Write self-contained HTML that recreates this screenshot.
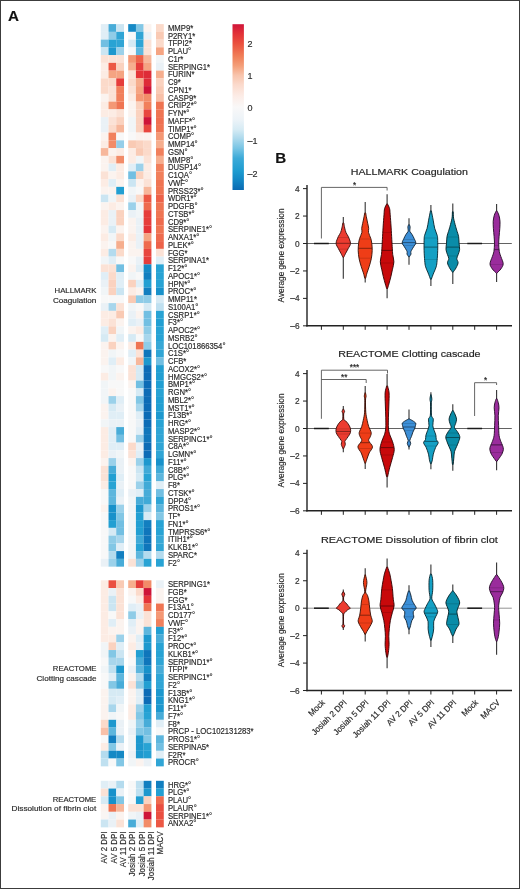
<!DOCTYPE html>
<html><head><meta charset="utf-8"><title>Figure</title>
<style>
html,body{margin:0;padding:0;background:#fff;}
body{width:520px;height:889px;overflow:hidden;}
#fig{position:relative;width:520px;height:889px;box-sizing:border-box;border:1px solid #3c3c3c;background:#fff;}
svg{position:absolute;left:0;top:0;will-change:transform;}
text{font-family:"Liberation Sans", sans-serif;stroke:#2b2b2b;stroke-width:0.18px;}
</style></head>
<body><div id="fig">
<svg width="520" height="889" viewBox="0 0 520 889" style="left:-1px;top:-1px">
<rect x="100.80" y="24.10" width="7.78" height="7.81" fill="#e0eef6"/>
<rect x="108.52" y="24.10" width="7.78" height="7.81" fill="#48acd8"/>
<rect x="116.24" y="24.10" width="7.78" height="7.81" fill="#cbe5f2"/>
<rect x="128.20" y="24.10" width="7.78" height="7.81" fill="#1589c5"/>
<rect x="135.92" y="24.10" width="7.78" height="7.81" fill="#82c7e5"/>
<rect x="143.64" y="24.10" width="7.78" height="7.81" fill="#fbf3ef"/>
<rect x="156.00" y="24.10" width="7.78" height="7.81" fill="#fbdaca"/>
<text x="167.90" y="30.95" font-size="8.3" text-anchor="start" fill="#2b2b2b" font-weight="normal" textLength="25.31" lengthAdjust="spacingAndGlyphs">MMP9*</text>
<rect x="100.80" y="31.85" width="7.78" height="7.81" fill="#e0eef6"/>
<rect x="108.52" y="31.85" width="7.78" height="7.81" fill="#8fcce7"/>
<rect x="116.24" y="31.85" width="7.78" height="7.81" fill="#30a5d5"/>
<rect x="128.20" y="31.85" width="7.78" height="7.81" fill="#f8f8f8"/>
<rect x="135.92" y="31.85" width="7.78" height="7.81" fill="#30a5d5"/>
<rect x="143.64" y="31.85" width="7.78" height="7.81" fill="#eaf1f6"/>
<rect x="156.00" y="31.85" width="7.78" height="7.81" fill="#f9cab4"/>
<text x="167.90" y="38.70" font-size="8.3" text-anchor="start" fill="#2b2b2b" font-weight="normal" textLength="27.32" lengthAdjust="spacingAndGlyphs">P2RY1*</text>
<rect x="100.80" y="39.60" width="7.78" height="7.81" fill="#72bfe2"/>
<rect x="108.52" y="39.60" width="7.78" height="7.81" fill="#28a3d4"/>
<rect x="116.24" y="39.60" width="7.78" height="7.81" fill="#30a5d5"/>
<rect x="128.20" y="39.60" width="7.78" height="7.81" fill="#d6eaf4"/>
<rect x="135.92" y="39.60" width="7.78" height="7.81" fill="#30a5d5"/>
<rect x="143.64" y="39.60" width="7.78" height="7.81" fill="#fbe2d6"/>
<rect x="156.00" y="39.60" width="7.78" height="7.81" fill="#fbdaca"/>
<text x="167.90" y="46.45" font-size="8.3" text-anchor="start" fill="#2b2b2b" font-weight="normal" textLength="24.02" lengthAdjust="spacingAndGlyphs">TFPI2*</text>
<rect x="100.80" y="47.35" width="7.78" height="7.81" fill="#cbe5f2"/>
<rect x="108.52" y="47.35" width="7.78" height="7.81" fill="#1d98ce"/>
<rect x="116.24" y="47.35" width="7.78" height="7.81" fill="#9bd1ea"/>
<rect x="128.20" y="47.35" width="7.78" height="7.81" fill="#f8f8f8"/>
<rect x="135.92" y="47.35" width="7.78" height="7.81" fill="#5db6dd"/>
<rect x="143.64" y="47.35" width="7.78" height="7.81" fill="#fbe2d6"/>
<rect x="156.00" y="47.35" width="7.78" height="7.81" fill="#f5a482"/>
<text x="167.90" y="54.20" font-size="8.3" text-anchor="start" fill="#2b2b2b" font-weight="normal" textLength="23.25" lengthAdjust="spacingAndGlyphs">PLAU°</text>
<rect x="100.80" y="55.10" width="7.78" height="7.81" fill="#fbe2d6"/>
<rect x="108.52" y="55.10" width="7.78" height="7.81" fill="#fbe2d6"/>
<rect x="116.24" y="55.10" width="7.78" height="7.81" fill="#fbe2d6"/>
<rect x="128.20" y="55.10" width="7.78" height="7.81" fill="#f49875"/>
<rect x="135.92" y="55.10" width="7.78" height="7.81" fill="#ed6249"/>
<rect x="143.64" y="55.10" width="7.78" height="7.81" fill="#f7b79b"/>
<rect x="156.00" y="55.10" width="7.78" height="7.81" fill="#f1f5f7"/>
<text x="167.90" y="61.95" font-size="8.3" text-anchor="start" fill="#2b2b2b" font-weight="normal" textLength="15.44" lengthAdjust="spacingAndGlyphs">C1r*</text>
<rect x="100.80" y="62.85" width="7.78" height="7.81" fill="#fcece4"/>
<rect x="108.52" y="62.85" width="7.78" height="7.81" fill="#ec5844"/>
<rect x="116.24" y="62.85" width="7.78" height="7.81" fill="#fad2bf"/>
<rect x="128.20" y="62.85" width="7.78" height="7.81" fill="#f6ae8e"/>
<rect x="135.92" y="62.85" width="7.78" height="7.81" fill="#e63d3b"/>
<rect x="143.64" y="62.85" width="7.78" height="7.81" fill="#f5a482"/>
<rect x="156.00" y="62.85" width="7.78" height="7.81" fill="#eaf1f6"/>
<text x="167.90" y="69.70" font-size="8.3" text-anchor="start" fill="#2b2b2b" font-weight="normal" textLength="42.04" lengthAdjust="spacingAndGlyphs">SERPING1*</text>
<rect x="100.80" y="70.60" width="7.78" height="7.81" fill="#fcece4"/>
<rect x="108.52" y="70.60" width="7.78" height="7.81" fill="#f5a482"/>
<rect x="116.24" y="70.60" width="7.78" height="7.81" fill="#f5a482"/>
<rect x="128.20" y="70.60" width="7.78" height="7.81" fill="#fbe2d6"/>
<rect x="135.92" y="70.60" width="7.78" height="7.81" fill="#e43438"/>
<rect x="143.64" y="70.60" width="7.78" height="7.81" fill="#de2c38"/>
<rect x="156.00" y="70.60" width="7.78" height="7.81" fill="#f6ae8e"/>
<text x="167.90" y="77.45" font-size="8.3" text-anchor="start" fill="#2b2b2b" font-weight="normal" textLength="26.59" lengthAdjust="spacingAndGlyphs">FURIN*</text>
<rect x="100.80" y="78.35" width="7.78" height="7.81" fill="#fbdaca"/>
<rect x="108.52" y="78.35" width="7.78" height="7.81" fill="#fbdaca"/>
<rect x="116.24" y="78.35" width="7.78" height="7.81" fill="#e63d3b"/>
<rect x="128.20" y="78.35" width="7.78" height="7.81" fill="#fbdaca"/>
<rect x="135.92" y="78.35" width="7.78" height="7.81" fill="#f6ae8e"/>
<rect x="143.64" y="78.35" width="7.78" height="7.81" fill="#de2c38"/>
<rect x="156.00" y="78.35" width="7.78" height="7.81" fill="#fad2bf"/>
<text x="167.90" y="85.20" font-size="8.3" text-anchor="start" fill="#2b2b2b" font-weight="normal" textLength="12.87" lengthAdjust="spacingAndGlyphs">C9*</text>
<rect x="100.80" y="86.10" width="7.78" height="7.81" fill="#fbdaca"/>
<rect x="108.52" y="86.10" width="7.78" height="7.81" fill="#fbe2d6"/>
<rect x="116.24" y="86.10" width="7.78" height="7.81" fill="#f1805c"/>
<rect x="128.20" y="86.10" width="7.78" height="7.81" fill="#fbe2d6"/>
<rect x="135.92" y="86.10" width="7.78" height="7.81" fill="#f5a482"/>
<rect x="143.64" y="86.10" width="7.78" height="7.81" fill="#ce1438"/>
<rect x="156.00" y="86.10" width="7.78" height="7.81" fill="#f9cab4"/>
<text x="167.90" y="92.95" font-size="8.3" text-anchor="start" fill="#2b2b2b" font-weight="normal" textLength="23.59" lengthAdjust="spacingAndGlyphs">CPN1*</text>
<rect x="100.80" y="93.85" width="7.78" height="7.81" fill="#fbf3ef"/>
<rect x="108.52" y="93.85" width="7.78" height="7.81" fill="#fbe2d6"/>
<rect x="116.24" y="93.85" width="7.78" height="7.81" fill="#f1805c"/>
<rect x="128.20" y="93.85" width="7.78" height="7.81" fill="#fcece4"/>
<rect x="135.92" y="93.85" width="7.78" height="7.81" fill="#f49875"/>
<rect x="143.64" y="93.85" width="7.78" height="7.81" fill="#f28c69"/>
<rect x="156.00" y="93.85" width="7.78" height="7.81" fill="#f8c0a8"/>
<text x="167.90" y="100.70" font-size="8.3" text-anchor="start" fill="#2b2b2b" font-weight="normal" textLength="28.32" lengthAdjust="spacingAndGlyphs">CASP9*</text>
<rect x="100.80" y="101.60" width="7.78" height="7.81" fill="#fcece4"/>
<rect x="108.52" y="101.60" width="7.78" height="7.81" fill="#f49875"/>
<rect x="116.24" y="101.60" width="7.78" height="7.81" fill="#ef7553"/>
<rect x="128.20" y="101.60" width="7.78" height="7.81" fill="#fbf3ef"/>
<rect x="135.92" y="101.60" width="7.78" height="7.81" fill="#fad2bf"/>
<rect x="143.64" y="101.60" width="7.78" height="7.81" fill="#f1805c"/>
<rect x="156.00" y="101.60" width="7.78" height="7.81" fill="#ef7553"/>
<text x="167.90" y="108.45" font-size="8.3" text-anchor="start" fill="#2b2b2b" font-weight="normal" textLength="28.83" lengthAdjust="spacingAndGlyphs">CRIP2*°</text>
<rect x="100.80" y="109.35" width="7.78" height="7.81" fill="#fcece4"/>
<rect x="108.52" y="109.35" width="7.78" height="7.81" fill="#fcece4"/>
<rect x="116.24" y="109.35" width="7.78" height="7.81" fill="#fbe2d6"/>
<rect x="128.20" y="109.35" width="7.78" height="7.81" fill="#fbf3ef"/>
<rect x="135.92" y="109.35" width="7.78" height="7.81" fill="#fad2bf"/>
<rect x="143.64" y="109.35" width="7.78" height="7.81" fill="#e8463e"/>
<rect x="156.00" y="109.35" width="7.78" height="7.81" fill="#ef7553"/>
<text x="167.90" y="116.20" font-size="8.3" text-anchor="start" fill="#2b2b2b" font-weight="normal" textLength="21.53" lengthAdjust="spacingAndGlyphs">FYN*°</text>
<rect x="100.80" y="117.10" width="7.78" height="7.81" fill="#eaf1f6"/>
<rect x="108.52" y="117.10" width="7.78" height="7.81" fill="#fbe2d6"/>
<rect x="116.24" y="117.10" width="7.78" height="7.81" fill="#fad2bf"/>
<rect x="128.20" y="117.10" width="7.78" height="7.81" fill="#f1f5f7"/>
<rect x="135.92" y="117.10" width="7.78" height="7.81" fill="#fad2bf"/>
<rect x="143.64" y="117.10" width="7.78" height="7.81" fill="#ce1438"/>
<rect x="156.00" y="117.10" width="7.78" height="7.81" fill="#ef7051"/>
<text x="167.90" y="123.95" font-size="8.3" text-anchor="start" fill="#2b2b2b" font-weight="normal" textLength="27.10" lengthAdjust="spacingAndGlyphs">MAFF*°</text>
<rect x="100.80" y="124.85" width="7.78" height="7.81" fill="#eaf1f6"/>
<rect x="108.52" y="124.85" width="7.78" height="7.81" fill="#fbdaca"/>
<rect x="116.24" y="124.85" width="7.78" height="7.81" fill="#f7b79b"/>
<rect x="128.20" y="124.85" width="7.78" height="7.81" fill="#f1f5f7"/>
<rect x="135.92" y="124.85" width="7.78" height="7.81" fill="#fad2bf"/>
<rect x="143.64" y="124.85" width="7.78" height="7.81" fill="#e8463e"/>
<rect x="156.00" y="124.85" width="7.78" height="7.81" fill="#ef7553"/>
<text x="167.90" y="131.70" font-size="8.3" text-anchor="start" fill="#2b2b2b" font-weight="normal" textLength="28.82" lengthAdjust="spacingAndGlyphs">TIMP1*°</text>
<rect x="100.80" y="132.60" width="7.78" height="7.81" fill="#fbf3ef"/>
<rect x="108.52" y="132.60" width="7.78" height="7.81" fill="#f1805c"/>
<rect x="116.24" y="132.60" width="7.78" height="7.81" fill="#f8f8f8"/>
<rect x="128.20" y="132.60" width="7.78" height="7.81" fill="#f8f8f8"/>
<rect x="135.92" y="132.60" width="7.78" height="7.81" fill="#fbf3ef"/>
<rect x="143.64" y="132.60" width="7.78" height="7.81" fill="#fbf3ef"/>
<rect x="156.00" y="132.60" width="7.78" height="7.81" fill="#f49875"/>
<text x="167.90" y="139.45" font-size="8.3" text-anchor="start" fill="#2b2b2b" font-weight="normal" textLength="26.24" lengthAdjust="spacingAndGlyphs">COMP°</text>
<rect x="100.80" y="140.35" width="7.78" height="7.81" fill="#fcece4"/>
<rect x="108.52" y="140.35" width="7.78" height="7.81" fill="#f28c69"/>
<rect x="116.24" y="140.35" width="7.78" height="7.81" fill="#95cee9"/>
<rect x="128.20" y="140.35" width="7.78" height="7.81" fill="#f9cab4"/>
<rect x="135.92" y="140.35" width="7.78" height="7.81" fill="#fad2bf"/>
<rect x="143.64" y="140.35" width="7.78" height="7.81" fill="#fbdaca"/>
<rect x="156.00" y="140.35" width="7.78" height="7.81" fill="#f6ae8e"/>
<text x="167.90" y="147.20" font-size="8.3" text-anchor="start" fill="#2b2b2b" font-weight="normal" textLength="29.68" lengthAdjust="spacingAndGlyphs">MMP14°</text>
<rect x="100.80" y="148.10" width="7.78" height="7.81" fill="#f7b79b"/>
<rect x="108.52" y="148.10" width="7.78" height="7.81" fill="#fbf3ef"/>
<rect x="116.24" y="148.10" width="7.78" height="7.81" fill="#fcece4"/>
<rect x="128.20" y="148.10" width="7.78" height="7.81" fill="#fcece4"/>
<rect x="135.92" y="148.10" width="7.78" height="7.81" fill="#f9cab4"/>
<rect x="143.64" y="148.10" width="7.78" height="7.81" fill="#fbdaca"/>
<rect x="156.00" y="148.10" width="7.78" height="7.81" fill="#f1805c"/>
<text x="167.90" y="154.95" font-size="8.3" text-anchor="start" fill="#2b2b2b" font-weight="normal" textLength="19.81" lengthAdjust="spacingAndGlyphs">GSN°</text>
<rect x="100.80" y="155.85" width="7.78" height="7.81" fill="#fbf3ef"/>
<rect x="108.52" y="155.85" width="7.78" height="7.81" fill="#fbe2d6"/>
<rect x="116.24" y="155.85" width="7.78" height="7.81" fill="#f28c69"/>
<rect x="128.20" y="155.85" width="7.78" height="7.81" fill="#fcece4"/>
<rect x="135.92" y="155.85" width="7.78" height="7.81" fill="#f1f5f7"/>
<rect x="143.64" y="155.85" width="7.78" height="7.81" fill="#fbe2d6"/>
<rect x="156.00" y="155.85" width="7.78" height="7.81" fill="#f6ae8e"/>
<text x="167.90" y="162.70" font-size="8.3" text-anchor="start" fill="#2b2b2b" font-weight="normal" textLength="25.39" lengthAdjust="spacingAndGlyphs">MMP8°</text>
<rect x="100.80" y="163.60" width="7.78" height="7.81" fill="#fbf3ef"/>
<rect x="108.52" y="163.60" width="7.78" height="7.81" fill="#e0eef6"/>
<rect x="116.24" y="163.60" width="7.78" height="7.81" fill="#fcece4"/>
<rect x="128.20" y="163.60" width="7.78" height="7.81" fill="#e0eef6"/>
<rect x="135.92" y="163.60" width="7.78" height="7.81" fill="#9bd1ea"/>
<rect x="143.64" y="163.60" width="7.78" height="7.81" fill="#fcece4"/>
<rect x="156.00" y="163.60" width="7.78" height="7.81" fill="#f1805c"/>
<text x="167.90" y="170.45" font-size="8.3" text-anchor="start" fill="#2b2b2b" font-weight="normal" textLength="33.12" lengthAdjust="spacingAndGlyphs">DUSP14°</text>
<rect x="100.80" y="171.35" width="7.78" height="7.81" fill="#fbe2d6"/>
<rect x="108.52" y="171.35" width="7.78" height="7.81" fill="#fbf3ef"/>
<rect x="116.24" y="171.35" width="7.78" height="7.81" fill="#fcece4"/>
<rect x="128.20" y="171.35" width="7.78" height="7.81" fill="#72bfe2"/>
<rect x="135.92" y="171.35" width="7.78" height="7.81" fill="#fad2bf"/>
<rect x="143.64" y="171.35" width="7.78" height="7.81" fill="#fcece4"/>
<rect x="156.00" y="171.35" width="7.78" height="7.81" fill="#f1805c"/>
<text x="167.90" y="178.20" font-size="8.3" text-anchor="start" fill="#2b2b2b" font-weight="normal" textLength="24.11" lengthAdjust="spacingAndGlyphs">C1QA°</text>
<rect x="100.80" y="179.10" width="7.78" height="7.81" fill="#fcece4"/>
<rect x="108.52" y="179.10" width="7.78" height="7.81" fill="#e0eef6"/>
<rect x="116.24" y="179.10" width="7.78" height="7.81" fill="#fbf3ef"/>
<rect x="128.20" y="179.10" width="7.78" height="7.81" fill="#cbe5f2"/>
<rect x="135.92" y="179.10" width="7.78" height="7.81" fill="#fbf3ef"/>
<rect x="143.64" y="179.10" width="7.78" height="7.81" fill="#fbe2d6"/>
<rect x="156.00" y="179.10" width="7.78" height="7.81" fill="#ef7553"/>
<text x="167.90" y="185.95" font-size="8.3" text-anchor="start" fill="#2b2b2b" font-weight="normal" textLength="20.24" lengthAdjust="spacingAndGlyphs">VWF°</text>
<rect x="100.80" y="186.85" width="7.78" height="7.81" fill="#fbf3ef"/>
<rect x="108.52" y="186.85" width="7.78" height="7.81" fill="#fbf3ef"/>
<rect x="116.24" y="186.85" width="7.78" height="7.81" fill="#229fd2"/>
<rect x="128.20" y="186.85" width="7.78" height="7.81" fill="#f1f5f7"/>
<rect x="135.92" y="186.85" width="7.78" height="7.81" fill="#f8f8f8"/>
<rect x="143.64" y="186.85" width="7.78" height="7.81" fill="#f7b79b"/>
<rect x="156.00" y="186.85" width="7.78" height="7.81" fill="#ef7553"/>
<text x="167.90" y="193.70" font-size="8.3" text-anchor="start" fill="#2b2b2b" font-weight="normal" textLength="35.70" lengthAdjust="spacingAndGlyphs">PRSS23*°</text>
<rect x="100.80" y="194.60" width="7.78" height="7.81" fill="#cbe5f2"/>
<rect x="108.52" y="194.60" width="7.78" height="7.81" fill="#f1f5f7"/>
<rect x="116.24" y="194.60" width="7.78" height="7.81" fill="#fbe2d6"/>
<rect x="128.20" y="194.60" width="7.78" height="7.81" fill="#eaf1f6"/>
<rect x="135.92" y="194.60" width="7.78" height="7.81" fill="#fbdaca"/>
<rect x="143.64" y="194.60" width="7.78" height="7.81" fill="#ec5844"/>
<rect x="156.00" y="194.60" width="7.78" height="7.81" fill="#ed6249"/>
<text x="167.90" y="201.45" font-size="8.3" text-anchor="start" fill="#2b2b2b" font-weight="normal" textLength="28.82" lengthAdjust="spacingAndGlyphs">WDR1*°</text>
<rect x="100.80" y="202.35" width="7.78" height="7.81" fill="#fbf3ef"/>
<rect x="108.52" y="202.35" width="7.78" height="7.81" fill="#fcece4"/>
<rect x="116.24" y="202.35" width="7.78" height="7.81" fill="#fbf3ef"/>
<rect x="128.20" y="202.35" width="7.78" height="7.81" fill="#9bd1ea"/>
<rect x="135.92" y="202.35" width="7.78" height="7.81" fill="#f1f5f7"/>
<rect x="143.64" y="202.35" width="7.78" height="7.81" fill="#ee6b4e"/>
<rect x="156.00" y="202.35" width="7.78" height="7.81" fill="#ef7553"/>
<text x="167.90" y="209.20" font-size="8.3" text-anchor="start" fill="#2b2b2b" font-weight="normal" textLength="29.68" lengthAdjust="spacingAndGlyphs">PDGFB°</text>
<rect x="100.80" y="210.10" width="7.78" height="7.81" fill="#fcece4"/>
<rect x="108.52" y="210.10" width="7.78" height="7.81" fill="#eaf1f6"/>
<rect x="116.24" y="210.10" width="7.78" height="7.81" fill="#fad2bf"/>
<rect x="128.20" y="210.10" width="7.78" height="7.81" fill="#eaf1f6"/>
<rect x="135.92" y="210.10" width="7.78" height="7.81" fill="#f1f5f7"/>
<rect x="143.64" y="210.10" width="7.78" height="7.81" fill="#e63d3b"/>
<rect x="156.00" y="210.10" width="7.78" height="7.81" fill="#ef7553"/>
<text x="167.90" y="216.95" font-size="8.3" text-anchor="start" fill="#2b2b2b" font-weight="normal" textLength="26.68" lengthAdjust="spacingAndGlyphs">CTSB*°</text>
<rect x="100.80" y="217.85" width="7.78" height="7.81" fill="#fcece4"/>
<rect x="108.52" y="217.85" width="7.78" height="7.81" fill="#eaf1f6"/>
<rect x="116.24" y="217.85" width="7.78" height="7.81" fill="#fad2bf"/>
<rect x="128.20" y="217.85" width="7.78" height="7.81" fill="#fbf3ef"/>
<rect x="135.92" y="217.85" width="7.78" height="7.81" fill="#eaf1f6"/>
<rect x="143.64" y="217.85" width="7.78" height="7.81" fill="#e63d3b"/>
<rect x="156.00" y="217.85" width="7.78" height="7.81" fill="#ee6b4e"/>
<text x="167.90" y="224.70" font-size="8.3" text-anchor="start" fill="#2b2b2b" font-weight="normal" textLength="21.53" lengthAdjust="spacingAndGlyphs">CD9*°</text>
<rect x="100.80" y="225.60" width="7.78" height="7.81" fill="#fbf3ef"/>
<rect x="108.52" y="225.60" width="7.78" height="7.81" fill="#d6eaf4"/>
<rect x="116.24" y="225.60" width="7.78" height="7.81" fill="#fbf3ef"/>
<rect x="128.20" y="225.60" width="7.78" height="7.81" fill="#fbf3ef"/>
<rect x="135.92" y="225.60" width="7.78" height="7.81" fill="#eaf1f6"/>
<rect x="143.64" y="225.60" width="7.78" height="7.81" fill="#e43438"/>
<rect x="156.00" y="225.60" width="7.78" height="7.81" fill="#ef7553"/>
<text x="167.90" y="232.45" font-size="8.3" text-anchor="start" fill="#2b2b2b" font-weight="normal" textLength="44.27" lengthAdjust="spacingAndGlyphs">SERPINE1*°</text>
<rect x="100.80" y="233.35" width="7.78" height="7.81" fill="#fcece4"/>
<rect x="108.52" y="233.35" width="7.78" height="7.81" fill="#f1f5f7"/>
<rect x="116.24" y="233.35" width="7.78" height="7.81" fill="#fbdaca"/>
<rect x="128.20" y="233.35" width="7.78" height="7.81" fill="#fcece4"/>
<rect x="135.92" y="233.35" width="7.78" height="7.81" fill="#eaf1f6"/>
<rect x="143.64" y="233.35" width="7.78" height="7.81" fill="#f5a482"/>
<rect x="156.00" y="233.35" width="7.78" height="7.81" fill="#ee6b4e"/>
<text x="167.90" y="240.20" font-size="8.3" text-anchor="start" fill="#2b2b2b" font-weight="normal" textLength="31.40" lengthAdjust="spacingAndGlyphs">ANXA1*°</text>
<rect x="100.80" y="241.10" width="7.78" height="7.81" fill="#fbf3ef"/>
<rect x="108.52" y="241.10" width="7.78" height="7.81" fill="#f8f8f8"/>
<rect x="116.24" y="241.10" width="7.78" height="7.81" fill="#f6ae8e"/>
<rect x="128.20" y="241.10" width="7.78" height="7.81" fill="#fbf3ef"/>
<rect x="135.92" y="241.10" width="7.78" height="7.81" fill="#eaf1f6"/>
<rect x="143.64" y="241.10" width="7.78" height="7.81" fill="#ee6b4e"/>
<rect x="156.00" y="241.10" width="7.78" height="7.81" fill="#ed6249"/>
<text x="167.90" y="247.95" font-size="8.3" text-anchor="start" fill="#2b2b2b" font-weight="normal" textLength="25.83" lengthAdjust="spacingAndGlyphs">PLEK*°</text>
<rect x="100.80" y="248.85" width="7.78" height="7.81" fill="#fcece4"/>
<rect x="108.52" y="248.85" width="7.78" height="7.81" fill="#b4dbee"/>
<rect x="116.24" y="248.85" width="7.78" height="7.81" fill="#fbdaca"/>
<rect x="128.20" y="248.85" width="7.78" height="7.81" fill="#fbf3ef"/>
<rect x="135.92" y="248.85" width="7.78" height="7.81" fill="#fbf3ef"/>
<rect x="143.64" y="248.85" width="7.78" height="7.81" fill="#e8463e"/>
<rect x="156.00" y="248.85" width="7.78" height="7.81" fill="#fbe2d6"/>
<text x="167.90" y="255.70" font-size="8.3" text-anchor="start" fill="#2b2b2b" font-weight="normal" textLength="19.73" lengthAdjust="spacingAndGlyphs">FGG*</text>
<rect x="100.80" y="256.60" width="7.78" height="7.81" fill="#f1f5f7"/>
<rect x="108.52" y="256.60" width="7.78" height="7.81" fill="#e0eef6"/>
<rect x="116.24" y="256.60" width="7.78" height="7.81" fill="#f8f8f8"/>
<rect x="128.20" y="256.60" width="7.78" height="7.81" fill="#f8f8f8"/>
<rect x="135.92" y="256.60" width="7.78" height="7.81" fill="#eaf1f6"/>
<rect x="143.64" y="256.60" width="7.78" height="7.81" fill="#e63d3b"/>
<rect x="156.00" y="256.60" width="7.78" height="7.81" fill="#e0eef6"/>
<text x="167.90" y="263.45" font-size="8.3" text-anchor="start" fill="#2b2b2b" font-weight="normal" textLength="41.19" lengthAdjust="spacingAndGlyphs">SERPINA1*</text>
<rect x="100.80" y="264.35" width="7.78" height="7.81" fill="#fbe2d6"/>
<rect x="108.52" y="264.35" width="7.78" height="7.81" fill="#fbe2d6"/>
<rect x="116.24" y="264.35" width="7.78" height="7.81" fill="#72bfe2"/>
<rect x="128.20" y="264.35" width="7.78" height="7.81" fill="#fbf3ef"/>
<rect x="135.92" y="264.35" width="7.78" height="7.81" fill="#e0eef6"/>
<rect x="143.64" y="264.35" width="7.78" height="7.81" fill="#1589c5"/>
<rect x="156.00" y="264.35" width="7.78" height="7.81" fill="#28a3d4"/>
<text x="167.90" y="271.20" font-size="8.3" text-anchor="start" fill="#2b2b2b" font-weight="normal" textLength="19.39" lengthAdjust="spacingAndGlyphs">F12*°</text>
<rect x="100.80" y="272.10" width="7.78" height="7.81" fill="#e0eef6"/>
<rect x="108.52" y="272.10" width="7.78" height="7.81" fill="#fbdaca"/>
<rect x="116.24" y="272.10" width="7.78" height="7.81" fill="#e0eef6"/>
<rect x="128.20" y="272.10" width="7.78" height="7.81" fill="#f1f5f7"/>
<rect x="135.92" y="272.10" width="7.78" height="7.81" fill="#f8f8f8"/>
<rect x="143.64" y="272.10" width="7.78" height="7.81" fill="#127fc0"/>
<rect x="156.00" y="272.10" width="7.78" height="7.81" fill="#28a3d4"/>
<text x="167.90" y="278.95" font-size="8.3" text-anchor="start" fill="#2b2b2b" font-weight="normal" textLength="32.26" lengthAdjust="spacingAndGlyphs">APOC1*°</text>
<rect x="100.80" y="279.85" width="7.78" height="7.81" fill="#eaf1f6"/>
<rect x="108.52" y="279.85" width="7.78" height="7.81" fill="#fad2bf"/>
<rect x="116.24" y="279.85" width="7.78" height="7.81" fill="#e0eef6"/>
<rect x="128.20" y="279.85" width="7.78" height="7.81" fill="#fad2bf"/>
<rect x="135.92" y="279.85" width="7.78" height="7.81" fill="#e0eef6"/>
<rect x="143.64" y="279.85" width="7.78" height="7.81" fill="#229fd2"/>
<rect x="156.00" y="279.85" width="7.78" height="7.81" fill="#28a3d4"/>
<text x="167.90" y="286.70" font-size="8.3" text-anchor="start" fill="#2b2b2b" font-weight="normal" textLength="22.39" lengthAdjust="spacingAndGlyphs">HPN*°</text>
<rect x="100.80" y="287.60" width="7.78" height="7.81" fill="#f1f5f7"/>
<rect x="108.52" y="287.60" width="7.78" height="7.81" fill="#fad2bf"/>
<rect x="116.24" y="287.60" width="7.78" height="7.81" fill="#cbe5f2"/>
<rect x="128.20" y="287.60" width="7.78" height="7.81" fill="#fcece4"/>
<rect x="135.92" y="287.60" width="7.78" height="7.81" fill="#fbf3ef"/>
<rect x="143.64" y="287.60" width="7.78" height="7.81" fill="#127fc0"/>
<rect x="156.00" y="287.60" width="7.78" height="7.81" fill="#1891ca"/>
<text x="167.90" y="294.45" font-size="8.3" text-anchor="start" fill="#2b2b2b" font-weight="normal" textLength="28.39" lengthAdjust="spacingAndGlyphs">PROC*°</text>
<rect x="100.80" y="295.35" width="7.78" height="7.81" fill="#f8f8f8"/>
<rect x="108.52" y="295.35" width="7.78" height="7.81" fill="#f8f8f8"/>
<rect x="116.24" y="295.35" width="7.78" height="7.81" fill="#f8f8f8"/>
<rect x="128.20" y="295.35" width="7.78" height="7.81" fill="#f9cab4"/>
<rect x="135.92" y="295.35" width="7.78" height="7.81" fill="#8fcce7"/>
<rect x="143.64" y="295.35" width="7.78" height="7.81" fill="#8fcce7"/>
<rect x="156.00" y="295.35" width="7.78" height="7.81" fill="#d6eaf4"/>
<text x="167.90" y="302.20" font-size="8.3" text-anchor="start" fill="#2b2b2b" font-weight="normal" textLength="29.02" lengthAdjust="spacingAndGlyphs">MMP11*</text>
<rect x="100.80" y="303.10" width="7.78" height="7.81" fill="#eaf1f6"/>
<rect x="108.52" y="303.10" width="7.78" height="7.81" fill="#a8d6ec"/>
<rect x="116.24" y="303.10" width="7.78" height="7.81" fill="#fbe2d6"/>
<rect x="128.20" y="303.10" width="7.78" height="7.81" fill="#f1f5f7"/>
<rect x="135.92" y="303.10" width="7.78" height="7.81" fill="#f8f8f8"/>
<rect x="143.64" y="303.10" width="7.78" height="7.81" fill="#d6eaf4"/>
<rect x="156.00" y="303.10" width="7.78" height="7.81" fill="#bfe0f0"/>
<text x="167.90" y="309.95" font-size="8.3" text-anchor="start" fill="#2b2b2b" font-weight="normal" textLength="30.55" lengthAdjust="spacingAndGlyphs">S100A1°</text>
<rect x="100.80" y="310.85" width="7.78" height="7.81" fill="#fcece4"/>
<rect x="108.52" y="310.85" width="7.78" height="7.81" fill="#fcece4"/>
<rect x="116.24" y="310.85" width="7.78" height="7.81" fill="#f9cab4"/>
<rect x="128.20" y="310.85" width="7.78" height="7.81" fill="#eaf1f6"/>
<rect x="135.92" y="310.85" width="7.78" height="7.81" fill="#fbf3ef"/>
<rect x="143.64" y="310.85" width="7.78" height="7.81" fill="#72bfe2"/>
<rect x="156.00" y="310.85" width="7.78" height="7.81" fill="#28a3d4"/>
<text x="167.90" y="317.70" font-size="8.3" text-anchor="start" fill="#2b2b2b" font-weight="normal" textLength="31.83" lengthAdjust="spacingAndGlyphs">CSRP1*°</text>
<rect x="100.80" y="318.60" width="7.78" height="7.81" fill="#fcece4"/>
<rect x="108.52" y="318.60" width="7.78" height="7.81" fill="#fbe2d6"/>
<rect x="116.24" y="318.60" width="7.78" height="7.81" fill="#fbf3ef"/>
<rect x="128.20" y="318.60" width="7.78" height="7.81" fill="#e0eef6"/>
<rect x="135.92" y="318.60" width="7.78" height="7.81" fill="#eaf1f6"/>
<rect x="143.64" y="318.60" width="7.78" height="7.81" fill="#72bfe2"/>
<rect x="156.00" y="318.60" width="7.78" height="7.81" fill="#229fd2"/>
<text x="167.90" y="325.45" font-size="8.3" text-anchor="start" fill="#2b2b2b" font-weight="normal" textLength="15.10" lengthAdjust="spacingAndGlyphs">F3*°</text>
<rect x="100.80" y="326.35" width="7.78" height="7.81" fill="#e0eef6"/>
<rect x="108.52" y="326.35" width="7.78" height="7.81" fill="#fad2bf"/>
<rect x="116.24" y="326.35" width="7.78" height="7.81" fill="#f1f5f7"/>
<rect x="128.20" y="326.35" width="7.78" height="7.81" fill="#fbf3ef"/>
<rect x="135.92" y="326.35" width="7.78" height="7.81" fill="#fcece4"/>
<rect x="143.64" y="326.35" width="7.78" height="7.81" fill="#8fcce7"/>
<rect x="156.00" y="326.35" width="7.78" height="7.81" fill="#28a3d4"/>
<text x="167.90" y="333.20" font-size="8.3" text-anchor="start" fill="#2b2b2b" font-weight="normal" textLength="32.26" lengthAdjust="spacingAndGlyphs">APOC2*°</text>
<rect x="100.80" y="334.10" width="7.78" height="7.81" fill="#d6eaf4"/>
<rect x="108.52" y="334.10" width="7.78" height="7.81" fill="#fbf3ef"/>
<rect x="116.24" y="334.10" width="7.78" height="7.81" fill="#e0eef6"/>
<rect x="128.20" y="334.10" width="7.78" height="7.81" fill="#d6eaf4"/>
<rect x="135.92" y="334.10" width="7.78" height="7.81" fill="#f8f8f8"/>
<rect x="143.64" y="334.10" width="7.78" height="7.81" fill="#a8d6ec"/>
<rect x="156.00" y="334.10" width="7.78" height="7.81" fill="#28a3d4"/>
<text x="167.90" y="340.95" font-size="8.3" text-anchor="start" fill="#2b2b2b" font-weight="normal" textLength="29.68" lengthAdjust="spacingAndGlyphs">MSRB2°</text>
<rect x="100.80" y="341.85" width="7.78" height="7.81" fill="#fbf3ef"/>
<rect x="108.52" y="341.85" width="7.78" height="7.81" fill="#fad2bf"/>
<rect x="116.24" y="341.85" width="7.78" height="7.81" fill="#fbf3ef"/>
<rect x="128.20" y="341.85" width="7.78" height="7.81" fill="#fcece4"/>
<rect x="135.92" y="341.85" width="7.78" height="7.81" fill="#ef7553"/>
<rect x="143.64" y="341.85" width="7.78" height="7.81" fill="#8fcce7"/>
<rect x="156.00" y="341.85" width="7.78" height="7.81" fill="#38a8d6"/>
<text x="167.90" y="348.70" font-size="8.3" text-anchor="start" fill="#2b2b2b" font-weight="normal" textLength="57.59" lengthAdjust="spacingAndGlyphs">LOC101866354°</text>
<rect x="100.80" y="349.60" width="7.78" height="7.81" fill="#fbf3ef"/>
<rect x="108.52" y="349.60" width="7.78" height="7.81" fill="#f1f5f7"/>
<rect x="116.24" y="349.60" width="7.78" height="7.81" fill="#f8f8f8"/>
<rect x="128.20" y="349.60" width="7.78" height="7.81" fill="#e0eef6"/>
<rect x="135.92" y="349.60" width="7.78" height="7.81" fill="#fbe2d6"/>
<rect x="143.64" y="349.60" width="7.78" height="7.81" fill="#0f76bb"/>
<rect x="156.00" y="349.60" width="7.78" height="7.81" fill="#30a5d5"/>
<text x="167.90" y="356.45" font-size="8.3" text-anchor="start" fill="#2b2b2b" font-weight="normal" textLength="21.11" lengthAdjust="spacingAndGlyphs">C1S*°</text>
<rect x="100.80" y="357.35" width="7.78" height="7.81" fill="#fbf3ef"/>
<rect x="108.52" y="357.35" width="7.78" height="7.81" fill="#e0eef6"/>
<rect x="116.24" y="357.35" width="7.78" height="7.81" fill="#fcece4"/>
<rect x="128.20" y="357.35" width="7.78" height="7.81" fill="#f1f5f7"/>
<rect x="135.92" y="357.35" width="7.78" height="7.81" fill="#f7b79b"/>
<rect x="143.64" y="357.35" width="7.78" height="7.81" fill="#1d98ce"/>
<rect x="156.00" y="357.35" width="7.78" height="7.81" fill="#72bfe2"/>
<text x="167.90" y="364.20" font-size="8.3" text-anchor="start" fill="#2b2b2b" font-weight="normal" textLength="18.44" lengthAdjust="spacingAndGlyphs">CFB*</text>
<rect x="100.80" y="365.10" width="7.78" height="7.81" fill="#f8f8f8"/>
<rect x="108.52" y="365.10" width="7.78" height="7.81" fill="#f1f5f7"/>
<rect x="116.24" y="365.10" width="7.78" height="7.81" fill="#f8f8f8"/>
<rect x="128.20" y="365.10" width="7.78" height="7.81" fill="#fbe2d6"/>
<rect x="135.92" y="365.10" width="7.78" height="7.81" fill="#d6eaf4"/>
<rect x="143.64" y="365.10" width="7.78" height="7.81" fill="#0c6cb6"/>
<rect x="156.00" y="365.10" width="7.78" height="7.81" fill="#229fd2"/>
<text x="167.90" y="371.95" font-size="8.3" text-anchor="start" fill="#2b2b2b" font-weight="normal" textLength="32.26" lengthAdjust="spacingAndGlyphs">ACOX2*°</text>
<rect x="100.80" y="372.85" width="7.78" height="7.81" fill="#fcece4"/>
<rect x="108.52" y="372.85" width="7.78" height="7.81" fill="#f1f5f7"/>
<rect x="116.24" y="372.85" width="7.78" height="7.81" fill="#fbf3ef"/>
<rect x="128.20" y="372.85" width="7.78" height="7.81" fill="#fbe2d6"/>
<rect x="135.92" y="372.85" width="7.78" height="7.81" fill="#d6eaf4"/>
<rect x="143.64" y="372.85" width="7.78" height="7.81" fill="#0c6cb6"/>
<rect x="156.00" y="372.85" width="7.78" height="7.81" fill="#229fd2"/>
<text x="167.90" y="379.70" font-size="8.3" text-anchor="start" fill="#2b2b2b" font-weight="normal" textLength="39.11" lengthAdjust="spacingAndGlyphs">HMGCS2*°</text>
<rect x="100.80" y="380.60" width="7.78" height="7.81" fill="#f1f5f7"/>
<rect x="108.52" y="380.60" width="7.78" height="7.81" fill="#f8f8f8"/>
<rect x="116.24" y="380.60" width="7.78" height="7.81" fill="#f8f8f8"/>
<rect x="128.20" y="380.60" width="7.78" height="7.81" fill="#fbf3ef"/>
<rect x="135.92" y="380.60" width="7.78" height="7.81" fill="#72bfe2"/>
<rect x="143.64" y="380.60" width="7.78" height="7.81" fill="#0c6cb6"/>
<rect x="156.00" y="380.60" width="7.78" height="7.81" fill="#229fd2"/>
<text x="167.90" y="387.45" font-size="8.3" text-anchor="start" fill="#2b2b2b" font-weight="normal" textLength="27.11" lengthAdjust="spacingAndGlyphs">BMP1*°</text>
<rect x="100.80" y="388.35" width="7.78" height="7.81" fill="#f1f5f7"/>
<rect x="108.52" y="388.35" width="7.78" height="7.81" fill="#fbf3ef"/>
<rect x="116.24" y="388.35" width="7.78" height="7.81" fill="#f8f8f8"/>
<rect x="128.20" y="388.35" width="7.78" height="7.81" fill="#f8f8f8"/>
<rect x="135.92" y="388.35" width="7.78" height="7.81" fill="#d6eaf4"/>
<rect x="143.64" y="388.35" width="7.78" height="7.81" fill="#0c6cb6"/>
<rect x="156.00" y="388.35" width="7.78" height="7.81" fill="#28a3d4"/>
<text x="167.90" y="395.20" font-size="8.3" text-anchor="start" fill="#2b2b2b" font-weight="normal" textLength="23.24" lengthAdjust="spacingAndGlyphs">RGN*°</text>
<rect x="100.80" y="396.10" width="7.78" height="7.81" fill="#f1f5f7"/>
<rect x="108.52" y="396.10" width="7.78" height="7.81" fill="#9bd1ea"/>
<rect x="116.24" y="396.10" width="7.78" height="7.81" fill="#e0eef6"/>
<rect x="128.20" y="396.10" width="7.78" height="7.81" fill="#f8f8f8"/>
<rect x="135.92" y="396.10" width="7.78" height="7.81" fill="#82c7e5"/>
<rect x="143.64" y="396.10" width="7.78" height="7.81" fill="#0c6cb6"/>
<rect x="156.00" y="396.10" width="7.78" height="7.81" fill="#229fd2"/>
<text x="167.90" y="402.95" font-size="8.3" text-anchor="start" fill="#2b2b2b" font-weight="normal" textLength="26.25" lengthAdjust="spacingAndGlyphs">MBL2*°</text>
<rect x="100.80" y="403.85" width="7.78" height="7.81" fill="#fbf3ef"/>
<rect x="108.52" y="403.85" width="7.78" height="7.81" fill="#d6eaf4"/>
<rect x="116.24" y="403.85" width="7.78" height="7.81" fill="#eaf1f6"/>
<rect x="128.20" y="403.85" width="7.78" height="7.81" fill="#f8f8f8"/>
<rect x="135.92" y="403.85" width="7.78" height="7.81" fill="#a8d6ec"/>
<rect x="143.64" y="403.85" width="7.78" height="7.81" fill="#0c6cb6"/>
<rect x="156.00" y="403.85" width="7.78" height="7.81" fill="#229fd2"/>
<text x="167.90" y="410.70" font-size="8.3" text-anchor="start" fill="#2b2b2b" font-weight="normal" textLength="26.68" lengthAdjust="spacingAndGlyphs">MST1*°</text>
<rect x="100.80" y="411.60" width="7.78" height="7.81" fill="#fbf3ef"/>
<rect x="108.52" y="411.60" width="7.78" height="7.81" fill="#e0eef6"/>
<rect x="116.24" y="411.60" width="7.78" height="7.81" fill="#e0eef6"/>
<rect x="128.20" y="411.60" width="7.78" height="7.81" fill="#f8f8f8"/>
<rect x="135.92" y="411.60" width="7.78" height="7.81" fill="#e0eef6"/>
<rect x="143.64" y="411.60" width="7.78" height="7.81" fill="#0c6cb6"/>
<rect x="156.00" y="411.60" width="7.78" height="7.81" fill="#1d98ce"/>
<text x="167.90" y="418.45" font-size="8.3" text-anchor="start" fill="#2b2b2b" font-weight="normal" textLength="24.54" lengthAdjust="spacingAndGlyphs">F13B*°</text>
<rect x="100.80" y="419.35" width="7.78" height="7.81" fill="#f1f5f7"/>
<rect x="108.52" y="419.35" width="7.78" height="7.81" fill="#eaf1f6"/>
<rect x="116.24" y="419.35" width="7.78" height="7.81" fill="#eaf1f6"/>
<rect x="128.20" y="419.35" width="7.78" height="7.81" fill="#f8f8f8"/>
<rect x="135.92" y="419.35" width="7.78" height="7.81" fill="#eaf1f6"/>
<rect x="143.64" y="419.35" width="7.78" height="7.81" fill="#0c6cb6"/>
<rect x="156.00" y="419.35" width="7.78" height="7.81" fill="#28a3d4"/>
<text x="167.90" y="426.20" font-size="8.3" text-anchor="start" fill="#2b2b2b" font-weight="normal" textLength="23.24" lengthAdjust="spacingAndGlyphs">HRG*°</text>
<rect x="100.80" y="427.10" width="7.78" height="7.81" fill="#fcece4"/>
<rect x="108.52" y="427.10" width="7.78" height="7.81" fill="#e0eef6"/>
<rect x="116.24" y="427.10" width="7.78" height="7.81" fill="#48acd8"/>
<rect x="128.20" y="427.10" width="7.78" height="7.81" fill="#f8f8f8"/>
<rect x="135.92" y="427.10" width="7.78" height="7.81" fill="#e0eef6"/>
<rect x="143.64" y="427.10" width="7.78" height="7.81" fill="#0f76bb"/>
<rect x="156.00" y="427.10" width="7.78" height="7.81" fill="#30a5d5"/>
<text x="167.90" y="433.95" font-size="8.3" text-anchor="start" fill="#2b2b2b" font-weight="normal" textLength="32.26" lengthAdjust="spacingAndGlyphs">MASP2*°</text>
<rect x="100.80" y="434.85" width="7.78" height="7.81" fill="#fcece4"/>
<rect x="108.52" y="434.85" width="7.78" height="7.81" fill="#e0eef6"/>
<rect x="116.24" y="434.85" width="7.78" height="7.81" fill="#72bfe2"/>
<rect x="128.20" y="434.85" width="7.78" height="7.81" fill="#f8f8f8"/>
<rect x="135.92" y="434.85" width="7.78" height="7.81" fill="#9bd1ea"/>
<rect x="143.64" y="434.85" width="7.78" height="7.81" fill="#0f76bb"/>
<rect x="156.00" y="434.85" width="7.78" height="7.81" fill="#30a5d5"/>
<text x="167.90" y="441.70" font-size="8.3" text-anchor="start" fill="#2b2b2b" font-weight="normal" textLength="44.70" lengthAdjust="spacingAndGlyphs">SERPINC1*°</text>
<rect x="100.80" y="442.60" width="7.78" height="7.81" fill="#fcece4"/>
<rect x="108.52" y="442.60" width="7.78" height="7.81" fill="#e0eef6"/>
<rect x="116.24" y="442.60" width="7.78" height="7.81" fill="#e0eef6"/>
<rect x="128.20" y="442.60" width="7.78" height="7.81" fill="#fbdaca"/>
<rect x="135.92" y="442.60" width="7.78" height="7.81" fill="#eaf1f6"/>
<rect x="143.64" y="442.60" width="7.78" height="7.81" fill="#0c6cb6"/>
<rect x="156.00" y="442.60" width="7.78" height="7.81" fill="#30a5d5"/>
<text x="167.90" y="449.45" font-size="8.3" text-anchor="start" fill="#2b2b2b" font-weight="normal" textLength="21.11" lengthAdjust="spacingAndGlyphs">C8A*°</text>
<rect x="100.80" y="450.35" width="7.78" height="7.81" fill="#fcece4"/>
<rect x="108.52" y="450.35" width="7.78" height="7.81" fill="#eaf1f6"/>
<rect x="116.24" y="450.35" width="7.78" height="7.81" fill="#f1f5f7"/>
<rect x="128.20" y="450.35" width="7.78" height="7.81" fill="#fbe2d6"/>
<rect x="135.92" y="450.35" width="7.78" height="7.81" fill="#e0eef6"/>
<rect x="143.64" y="450.35" width="7.78" height="7.81" fill="#0c6cb6"/>
<rect x="156.00" y="450.35" width="7.78" height="7.81" fill="#30a5d5"/>
<text x="167.90" y="457.20" font-size="8.3" text-anchor="start" fill="#2b2b2b" font-weight="normal" textLength="28.39" lengthAdjust="spacingAndGlyphs">LGMN*°</text>
<rect x="100.80" y="458.10" width="7.78" height="7.81" fill="#fbf3ef"/>
<rect x="108.52" y="458.10" width="7.78" height="7.81" fill="#9bd1ea"/>
<rect x="116.24" y="458.10" width="7.78" height="7.81" fill="#eaf1f6"/>
<rect x="128.20" y="458.10" width="7.78" height="7.81" fill="#fbf3ef"/>
<rect x="135.92" y="458.10" width="7.78" height="7.81" fill="#9bd1ea"/>
<rect x="143.64" y="458.10" width="7.78" height="7.81" fill="#1d98ce"/>
<rect x="156.00" y="458.10" width="7.78" height="7.81" fill="#1891ca"/>
<text x="167.90" y="464.95" font-size="8.3" text-anchor="start" fill="#2b2b2b" font-weight="normal" textLength="18.82" lengthAdjust="spacingAndGlyphs">F11*°</text>
<rect x="100.80" y="465.85" width="7.78" height="7.81" fill="#fbe2d6"/>
<rect x="108.52" y="465.85" width="7.78" height="7.81" fill="#48acd8"/>
<rect x="116.24" y="465.85" width="7.78" height="7.81" fill="#eaf1f6"/>
<rect x="128.20" y="465.85" width="7.78" height="7.81" fill="#f8f8f8"/>
<rect x="135.92" y="465.85" width="7.78" height="7.81" fill="#cbe5f2"/>
<rect x="143.64" y="465.85" width="7.78" height="7.81" fill="#40aad7"/>
<rect x="156.00" y="465.85" width="7.78" height="7.81" fill="#40aad7"/>
<text x="167.90" y="472.70" font-size="8.3" text-anchor="start" fill="#2b2b2b" font-weight="normal" textLength="21.11" lengthAdjust="spacingAndGlyphs">C8B*°</text>
<rect x="100.80" y="473.60" width="7.78" height="7.81" fill="#fbe2d6"/>
<rect x="108.52" y="473.60" width="7.78" height="7.81" fill="#229fd2"/>
<rect x="116.24" y="473.60" width="7.78" height="7.81" fill="#e0eef6"/>
<rect x="128.20" y="473.60" width="7.78" height="7.81" fill="#f8f8f8"/>
<rect x="135.92" y="473.60" width="7.78" height="7.81" fill="#d6eaf4"/>
<rect x="143.64" y="473.60" width="7.78" height="7.81" fill="#28a3d4"/>
<rect x="156.00" y="473.60" width="7.78" height="7.81" fill="#5db6dd"/>
<text x="167.90" y="480.45" font-size="8.3" text-anchor="start" fill="#2b2b2b" font-weight="normal" textLength="21.54" lengthAdjust="spacingAndGlyphs">PLG*°</text>
<rect x="100.80" y="481.35" width="7.78" height="7.81" fill="#fcece4"/>
<rect x="108.52" y="481.35" width="7.78" height="7.81" fill="#28a3d4"/>
<rect x="116.24" y="481.35" width="7.78" height="7.81" fill="#eaf1f6"/>
<rect x="128.20" y="481.35" width="7.78" height="7.81" fill="#f8f8f8"/>
<rect x="135.92" y="481.35" width="7.78" height="7.81" fill="#9bd1ea"/>
<rect x="143.64" y="481.35" width="7.78" height="7.81" fill="#40aad7"/>
<rect x="156.00" y="481.35" width="7.78" height="7.81" fill="#e0eef6"/>
<text x="167.90" y="488.20" font-size="8.3" text-anchor="start" fill="#2b2b2b" font-weight="normal" textLength="12.01" lengthAdjust="spacingAndGlyphs">F8*</text>
<rect x="100.80" y="489.10" width="7.78" height="7.81" fill="#f8f8f8"/>
<rect x="108.52" y="489.10" width="7.78" height="7.81" fill="#5db6dd"/>
<rect x="116.24" y="489.10" width="7.78" height="7.81" fill="#e0eef6"/>
<rect x="128.20" y="489.10" width="7.78" height="7.81" fill="#eaf1f6"/>
<rect x="135.92" y="489.10" width="7.78" height="7.81" fill="#e0eef6"/>
<rect x="143.64" y="489.10" width="7.78" height="7.81" fill="#48acd8"/>
<rect x="156.00" y="489.10" width="7.78" height="7.81" fill="#72bfe2"/>
<text x="167.90" y="495.95" font-size="8.3" text-anchor="start" fill="#2b2b2b" font-weight="normal" textLength="26.68" lengthAdjust="spacingAndGlyphs">CTSK*°</text>
<rect x="100.80" y="496.85" width="7.78" height="7.81" fill="#f8f8f8"/>
<rect x="108.52" y="496.85" width="7.78" height="7.81" fill="#5db6dd"/>
<rect x="116.24" y="496.85" width="7.78" height="7.81" fill="#eaf1f6"/>
<rect x="128.20" y="496.85" width="7.78" height="7.81" fill="#f1f5f7"/>
<rect x="135.92" y="496.85" width="7.78" height="7.81" fill="#48acd8"/>
<rect x="143.64" y="496.85" width="7.78" height="7.81" fill="#40aad7"/>
<rect x="156.00" y="496.85" width="7.78" height="7.81" fill="#30a5d5"/>
<text x="167.90" y="503.70" font-size="8.3" text-anchor="start" fill="#2b2b2b" font-weight="normal" textLength="23.25" lengthAdjust="spacingAndGlyphs">DPP4°</text>
<rect x="100.80" y="504.60" width="7.78" height="7.81" fill="#fbf3ef"/>
<rect x="108.52" y="504.60" width="7.78" height="7.81" fill="#1891ca"/>
<rect x="116.24" y="504.60" width="7.78" height="7.81" fill="#9bd1ea"/>
<rect x="128.20" y="504.60" width="7.78" height="7.81" fill="#f1f5f7"/>
<rect x="135.92" y="504.60" width="7.78" height="7.81" fill="#1d98ce"/>
<rect x="143.64" y="504.60" width="7.78" height="7.81" fill="#9bd1ea"/>
<rect x="156.00" y="504.60" width="7.78" height="7.81" fill="#5db6dd"/>
<text x="167.90" y="511.45" font-size="8.3" text-anchor="start" fill="#2b2b2b" font-weight="normal" textLength="32.26" lengthAdjust="spacingAndGlyphs">PROS1*°</text>
<rect x="100.80" y="512.35" width="7.78" height="7.81" fill="#f8f8f8"/>
<rect x="108.52" y="512.35" width="7.78" height="7.81" fill="#1891ca"/>
<rect x="116.24" y="512.35" width="7.78" height="7.81" fill="#82c7e5"/>
<rect x="128.20" y="512.35" width="7.78" height="7.81" fill="#f1f5f7"/>
<rect x="135.92" y="512.35" width="7.78" height="7.81" fill="#229fd2"/>
<rect x="143.64" y="512.35" width="7.78" height="7.81" fill="#d6eaf4"/>
<rect x="156.00" y="512.35" width="7.78" height="7.81" fill="#82c7e5"/>
<text x="167.90" y="519.20" font-size="8.3" text-anchor="start" fill="#2b2b2b" font-weight="normal" textLength="12.43" lengthAdjust="spacingAndGlyphs">TF*</text>
<rect x="100.80" y="520.10" width="7.78" height="7.81" fill="#f8f8f8"/>
<rect x="108.52" y="520.10" width="7.78" height="7.81" fill="#229fd2"/>
<rect x="116.24" y="520.10" width="7.78" height="7.81" fill="#72bfe2"/>
<rect x="128.20" y="520.10" width="7.78" height="7.81" fill="#f1f5f7"/>
<rect x="135.92" y="520.10" width="7.78" height="7.81" fill="#229fd2"/>
<rect x="143.64" y="520.10" width="7.78" height="7.81" fill="#127fc0"/>
<rect x="156.00" y="520.10" width="7.78" height="7.81" fill="#28a3d4"/>
<text x="167.90" y="526.95" font-size="8.3" text-anchor="start" fill="#2b2b2b" font-weight="normal" textLength="20.67" lengthAdjust="spacingAndGlyphs">FN1*°</text>
<rect x="100.80" y="527.85" width="7.78" height="7.81" fill="#f8f8f8"/>
<rect x="108.52" y="527.85" width="7.78" height="7.81" fill="#d6eaf4"/>
<rect x="116.24" y="527.85" width="7.78" height="7.81" fill="#72bfe2"/>
<rect x="128.20" y="527.85" width="7.78" height="7.81" fill="#f1f5f7"/>
<rect x="135.92" y="527.85" width="7.78" height="7.81" fill="#229fd2"/>
<rect x="143.64" y="527.85" width="7.78" height="7.81" fill="#0f76bb"/>
<rect x="156.00" y="527.85" width="7.78" height="7.81" fill="#28a3d4"/>
<text x="167.90" y="534.70" font-size="8.3" text-anchor="start" fill="#2b2b2b" font-weight="normal" textLength="42.55" lengthAdjust="spacingAndGlyphs">TMPRSS6*°</text>
<rect x="100.80" y="535.60" width="7.78" height="7.81" fill="#f8f8f8"/>
<rect x="108.52" y="535.60" width="7.78" height="7.81" fill="#8fcce7"/>
<rect x="116.24" y="535.60" width="7.78" height="7.81" fill="#a8d6ec"/>
<rect x="128.20" y="535.60" width="7.78" height="7.81" fill="#f1f5f7"/>
<rect x="135.92" y="535.60" width="7.78" height="7.81" fill="#40aad7"/>
<rect x="143.64" y="535.60" width="7.78" height="7.81" fill="#0f76bb"/>
<rect x="156.00" y="535.60" width="7.78" height="7.81" fill="#38a8d6"/>
<text x="167.90" y="542.45" font-size="8.3" text-anchor="start" fill="#2b2b2b" font-weight="normal" textLength="24.96" lengthAdjust="spacingAndGlyphs">ITIH1*°</text>
<rect x="100.80" y="543.35" width="7.78" height="7.81" fill="#f8f8f8"/>
<rect x="108.52" y="543.35" width="7.78" height="7.81" fill="#82c7e5"/>
<rect x="116.24" y="543.35" width="7.78" height="7.81" fill="#e0eef6"/>
<rect x="128.20" y="543.35" width="7.78" height="7.81" fill="#f1f5f7"/>
<rect x="135.92" y="543.35" width="7.78" height="7.81" fill="#28a3d4"/>
<rect x="143.64" y="543.35" width="7.78" height="7.81" fill="#0f76bb"/>
<rect x="156.00" y="543.35" width="7.78" height="7.81" fill="#30a5d5"/>
<text x="167.90" y="550.20" font-size="8.3" text-anchor="start" fill="#2b2b2b" font-weight="normal" textLength="30.12" lengthAdjust="spacingAndGlyphs">KLKB1*°</text>
<rect x="100.80" y="551.10" width="7.78" height="7.81" fill="#f8f8f8"/>
<rect x="108.52" y="551.10" width="7.78" height="7.81" fill="#b4dbee"/>
<rect x="116.24" y="551.10" width="7.78" height="7.81" fill="#127fc0"/>
<rect x="128.20" y="551.10" width="7.78" height="7.81" fill="#f1f5f7"/>
<rect x="135.92" y="551.10" width="7.78" height="7.81" fill="#5db6dd"/>
<rect x="143.64" y="551.10" width="7.78" height="7.81" fill="#b4dbee"/>
<rect x="156.00" y="551.10" width="7.78" height="7.81" fill="#b4dbee"/>
<text x="167.90" y="557.95" font-size="8.3" text-anchor="start" fill="#2b2b2b" font-weight="normal" textLength="29.03" lengthAdjust="spacingAndGlyphs">SPARC*</text>
<rect x="100.80" y="558.85" width="7.78" height="7.81" fill="#eaf1f6"/>
<rect x="108.52" y="558.85" width="7.78" height="7.81" fill="#9bd1ea"/>
<rect x="116.24" y="558.85" width="7.78" height="7.81" fill="#48acd8"/>
<rect x="128.20" y="558.85" width="7.78" height="7.81" fill="#fbe2d6"/>
<rect x="135.92" y="558.85" width="7.78" height="7.81" fill="#9bd1ea"/>
<rect x="143.64" y="558.85" width="7.78" height="7.81" fill="#28a3d4"/>
<rect x="156.00" y="558.85" width="7.78" height="7.81" fill="#28a3d4"/>
<text x="167.90" y="565.70" font-size="8.3" text-anchor="start" fill="#2b2b2b" font-weight="normal" textLength="12.09" lengthAdjust="spacingAndGlyphs">F2°</text>
<rect x="100.80" y="580.30" width="7.78" height="7.81" fill="#fcece4"/>
<rect x="108.52" y="580.30" width="7.78" height="7.81" fill="#ea4f41"/>
<rect x="116.24" y="580.30" width="7.78" height="7.81" fill="#f9cab4"/>
<rect x="128.20" y="580.30" width="7.78" height="7.81" fill="#f6ae8e"/>
<rect x="135.92" y="580.30" width="7.78" height="7.81" fill="#e63d3b"/>
<rect x="143.64" y="580.30" width="7.78" height="7.81" fill="#f28c69"/>
<rect x="156.00" y="580.30" width="7.78" height="7.81" fill="#eaf1f6"/>
<text x="167.90" y="587.15" font-size="8.3" text-anchor="start" fill="#2b2b2b" font-weight="normal" textLength="42.04" lengthAdjust="spacingAndGlyphs">SERPING1*</text>
<rect x="100.80" y="588.05" width="7.78" height="7.81" fill="#fcece4"/>
<rect x="108.52" y="588.05" width="7.78" height="7.81" fill="#eaf1f6"/>
<rect x="116.24" y="588.05" width="7.78" height="7.81" fill="#fbe2d6"/>
<rect x="128.20" y="588.05" width="7.78" height="7.81" fill="#fbf3ef"/>
<rect x="135.92" y="588.05" width="7.78" height="7.81" fill="#fbdaca"/>
<rect x="143.64" y="588.05" width="7.78" height="7.81" fill="#ce1438"/>
<rect x="156.00" y="588.05" width="7.78" height="7.81" fill="#fbf3ef"/>
<text x="167.90" y="594.90" font-size="8.3" text-anchor="start" fill="#2b2b2b" font-weight="normal" textLength="18.87" lengthAdjust="spacingAndGlyphs">FGB*</text>
<rect x="100.80" y="595.80" width="7.78" height="7.81" fill="#fcece4"/>
<rect x="108.52" y="595.80" width="7.78" height="7.81" fill="#cbe5f2"/>
<rect x="116.24" y="595.80" width="7.78" height="7.81" fill="#fbe2d6"/>
<rect x="128.20" y="595.80" width="7.78" height="7.81" fill="#f8f8f8"/>
<rect x="135.92" y="595.80" width="7.78" height="7.81" fill="#fcece4"/>
<rect x="143.64" y="595.80" width="7.78" height="7.81" fill="#e43438"/>
<rect x="156.00" y="595.80" width="7.78" height="7.81" fill="#fbf3ef"/>
<text x="167.90" y="602.65" font-size="8.3" text-anchor="start" fill="#2b2b2b" font-weight="normal" textLength="19.73" lengthAdjust="spacingAndGlyphs">FGG*</text>
<rect x="100.80" y="603.55" width="7.78" height="7.81" fill="#fcece4"/>
<rect x="108.52" y="603.55" width="7.78" height="7.81" fill="#cbe5f2"/>
<rect x="116.24" y="603.55" width="7.78" height="7.81" fill="#fbe2d6"/>
<rect x="128.20" y="603.55" width="7.78" height="7.81" fill="#e0eef6"/>
<rect x="135.92" y="603.55" width="7.78" height="7.81" fill="#eaf1f6"/>
<rect x="143.64" y="603.55" width="7.78" height="7.81" fill="#ef7553"/>
<rect x="156.00" y="603.55" width="7.78" height="7.81" fill="#ef7553"/>
<text x="167.90" y="610.40" font-size="8.3" text-anchor="start" fill="#2b2b2b" font-weight="normal" textLength="25.83" lengthAdjust="spacingAndGlyphs">F13A1°</text>
<rect x="100.80" y="611.30" width="7.78" height="7.81" fill="#fcece4"/>
<rect x="108.52" y="611.30" width="7.78" height="7.81" fill="#f8f8f8"/>
<rect x="116.24" y="611.30" width="7.78" height="7.81" fill="#fbe2d6"/>
<rect x="128.20" y="611.30" width="7.78" height="7.81" fill="#8fcce7"/>
<rect x="135.92" y="611.30" width="7.78" height="7.81" fill="#eaf1f6"/>
<rect x="143.64" y="611.30" width="7.78" height="7.81" fill="#fbe2d6"/>
<rect x="156.00" y="611.30" width="7.78" height="7.81" fill="#f49875"/>
<text x="167.90" y="618.15" font-size="8.3" text-anchor="start" fill="#2b2b2b" font-weight="normal" textLength="27.11" lengthAdjust="spacingAndGlyphs">CD177°</text>
<rect x="100.80" y="619.05" width="7.78" height="7.81" fill="#fcece4"/>
<rect x="108.52" y="619.05" width="7.78" height="7.81" fill="#e0eef6"/>
<rect x="116.24" y="619.05" width="7.78" height="7.81" fill="#fbf3ef"/>
<rect x="128.20" y="619.05" width="7.78" height="7.81" fill="#e0eef6"/>
<rect x="135.92" y="619.05" width="7.78" height="7.81" fill="#fbf3ef"/>
<rect x="143.64" y="619.05" width="7.78" height="7.81" fill="#fbe2d6"/>
<rect x="156.00" y="619.05" width="7.78" height="7.81" fill="#f1805c"/>
<text x="167.90" y="625.90" font-size="8.3" text-anchor="start" fill="#2b2b2b" font-weight="normal" textLength="20.24" lengthAdjust="spacingAndGlyphs">VWF°</text>
<rect x="100.80" y="626.80" width="7.78" height="7.81" fill="#fcece4"/>
<rect x="108.52" y="626.80" width="7.78" height="7.81" fill="#fbf3ef"/>
<rect x="116.24" y="626.80" width="7.78" height="7.81" fill="#fbf3ef"/>
<rect x="128.20" y="626.80" width="7.78" height="7.81" fill="#eaf1f6"/>
<rect x="135.92" y="626.80" width="7.78" height="7.81" fill="#fbf3ef"/>
<rect x="143.64" y="626.80" width="7.78" height="7.81" fill="#5db6dd"/>
<rect x="156.00" y="626.80" width="7.78" height="7.81" fill="#229fd2"/>
<text x="167.90" y="633.65" font-size="8.3" text-anchor="start" fill="#2b2b2b" font-weight="normal" textLength="15.10" lengthAdjust="spacingAndGlyphs">F3*°</text>
<rect x="100.80" y="634.55" width="7.78" height="7.81" fill="#fcece4"/>
<rect x="108.52" y="634.55" width="7.78" height="7.81" fill="#fcece4"/>
<rect x="116.24" y="634.55" width="7.78" height="7.81" fill="#9bd1ea"/>
<rect x="128.20" y="634.55" width="7.78" height="7.81" fill="#fbf3ef"/>
<rect x="135.92" y="634.55" width="7.78" height="7.81" fill="#e0eef6"/>
<rect x="143.64" y="634.55" width="7.78" height="7.81" fill="#1d98ce"/>
<rect x="156.00" y="634.55" width="7.78" height="7.81" fill="#48acd8"/>
<text x="167.90" y="641.40" font-size="8.3" text-anchor="start" fill="#2b2b2b" font-weight="normal" textLength="19.39" lengthAdjust="spacingAndGlyphs">F12*°</text>
<rect x="100.80" y="642.30" width="7.78" height="7.81" fill="#f1f5f7"/>
<rect x="108.52" y="642.30" width="7.78" height="7.81" fill="#fad2bf"/>
<rect x="116.24" y="642.30" width="7.78" height="7.81" fill="#e0eef6"/>
<rect x="128.20" y="642.30" width="7.78" height="7.81" fill="#fcece4"/>
<rect x="135.92" y="642.30" width="7.78" height="7.81" fill="#eaf1f6"/>
<rect x="143.64" y="642.30" width="7.78" height="7.81" fill="#1d98ce"/>
<rect x="156.00" y="642.30" width="7.78" height="7.81" fill="#28a3d4"/>
<text x="167.90" y="649.15" font-size="8.3" text-anchor="start" fill="#2b2b2b" font-weight="normal" textLength="28.39" lengthAdjust="spacingAndGlyphs">PROC*°</text>
<rect x="100.80" y="650.05" width="7.78" height="7.81" fill="#f1f5f7"/>
<rect x="108.52" y="650.05" width="7.78" height="7.81" fill="#82c7e5"/>
<rect x="116.24" y="650.05" width="7.78" height="7.81" fill="#cbe5f2"/>
<rect x="128.20" y="650.05" width="7.78" height="7.81" fill="#fbf3ef"/>
<rect x="135.92" y="650.05" width="7.78" height="7.81" fill="#229fd2"/>
<rect x="143.64" y="650.05" width="7.78" height="7.81" fill="#0f76bb"/>
<rect x="156.00" y="650.05" width="7.78" height="7.81" fill="#28a3d4"/>
<text x="167.90" y="656.90" font-size="8.3" text-anchor="start" fill="#2b2b2b" font-weight="normal" textLength="30.12" lengthAdjust="spacingAndGlyphs">KLKB1*°</text>
<rect x="100.80" y="657.80" width="7.78" height="7.81" fill="#f8f8f8"/>
<rect x="108.52" y="657.80" width="7.78" height="7.81" fill="#a8d6ec"/>
<rect x="116.24" y="657.80" width="7.78" height="7.81" fill="#a8d6ec"/>
<rect x="128.20" y="657.80" width="7.78" height="7.81" fill="#f8f8f8"/>
<rect x="135.92" y="657.80" width="7.78" height="7.81" fill="#48acd8"/>
<rect x="143.64" y="657.80" width="7.78" height="7.81" fill="#0f76bb"/>
<rect x="156.00" y="657.80" width="7.78" height="7.81" fill="#30a5d5"/>
<text x="167.90" y="664.65" font-size="8.3" text-anchor="start" fill="#2b2b2b" font-weight="normal" textLength="44.70" lengthAdjust="spacingAndGlyphs">SERPIND1*°</text>
<rect x="100.80" y="665.55" width="7.78" height="7.81" fill="#f1f5f7"/>
<rect x="108.52" y="665.55" width="7.78" height="7.81" fill="#bfe0f0"/>
<rect x="116.24" y="665.55" width="7.78" height="7.81" fill="#1d98ce"/>
<rect x="128.20" y="665.55" width="7.78" height="7.81" fill="#eaf1f6"/>
<rect x="135.92" y="665.55" width="7.78" height="7.81" fill="#5db6dd"/>
<rect x="143.64" y="665.55" width="7.78" height="7.81" fill="#1891ca"/>
<rect x="156.00" y="665.55" width="7.78" height="7.81" fill="#48acd8"/>
<text x="167.90" y="672.40" font-size="8.3" text-anchor="start" fill="#2b2b2b" font-weight="normal" textLength="19.73" lengthAdjust="spacingAndGlyphs">TFPI*</text>
<rect x="100.80" y="673.30" width="7.78" height="7.81" fill="#f8f8f8"/>
<rect x="108.52" y="673.30" width="7.78" height="7.81" fill="#e0eef6"/>
<rect x="116.24" y="673.30" width="7.78" height="7.81" fill="#5db6dd"/>
<rect x="128.20" y="673.30" width="7.78" height="7.81" fill="#fbf3ef"/>
<rect x="135.92" y="673.30" width="7.78" height="7.81" fill="#b4dbee"/>
<rect x="143.64" y="673.30" width="7.78" height="7.81" fill="#127fc0"/>
<rect x="156.00" y="673.30" width="7.78" height="7.81" fill="#30a5d5"/>
<text x="167.90" y="680.15" font-size="8.3" text-anchor="start" fill="#2b2b2b" font-weight="normal" textLength="44.70" lengthAdjust="spacingAndGlyphs">SERPINC1*°</text>
<rect x="100.80" y="681.05" width="7.78" height="7.81" fill="#f8f8f8"/>
<rect x="108.52" y="681.05" width="7.78" height="7.81" fill="#82c7e5"/>
<rect x="116.24" y="681.05" width="7.78" height="7.81" fill="#48acd8"/>
<rect x="128.20" y="681.05" width="7.78" height="7.81" fill="#fbe2d6"/>
<rect x="135.92" y="681.05" width="7.78" height="7.81" fill="#8fcce7"/>
<rect x="143.64" y="681.05" width="7.78" height="7.81" fill="#229fd2"/>
<rect x="156.00" y="681.05" width="7.78" height="7.81" fill="#30a5d5"/>
<text x="167.90" y="687.90" font-size="8.3" text-anchor="start" fill="#2b2b2b" font-weight="normal" textLength="12.09" lengthAdjust="spacingAndGlyphs">F2°</text>
<rect x="100.80" y="688.80" width="7.78" height="7.81" fill="#fbf3ef"/>
<rect x="108.52" y="688.80" width="7.78" height="7.81" fill="#d6eaf4"/>
<rect x="116.24" y="688.80" width="7.78" height="7.81" fill="#d6eaf4"/>
<rect x="128.20" y="688.80" width="7.78" height="7.81" fill="#fbf3ef"/>
<rect x="135.92" y="688.80" width="7.78" height="7.81" fill="#e0eef6"/>
<rect x="143.64" y="688.80" width="7.78" height="7.81" fill="#0c6cb6"/>
<rect x="156.00" y="688.80" width="7.78" height="7.81" fill="#1d98ce"/>
<text x="167.90" y="695.65" font-size="8.3" text-anchor="start" fill="#2b2b2b" font-weight="normal" textLength="24.54" lengthAdjust="spacingAndGlyphs">F13B*°</text>
<rect x="100.80" y="696.55" width="7.78" height="7.81" fill="#fbf3ef"/>
<rect x="108.52" y="696.55" width="7.78" height="7.81" fill="#d6eaf4"/>
<rect x="116.24" y="696.55" width="7.78" height="7.81" fill="#e0eef6"/>
<rect x="128.20" y="696.55" width="7.78" height="7.81" fill="#fbf3ef"/>
<rect x="135.92" y="696.55" width="7.78" height="7.81" fill="#e0eef6"/>
<rect x="143.64" y="696.55" width="7.78" height="7.81" fill="#0c6cb6"/>
<rect x="156.00" y="696.55" width="7.78" height="7.81" fill="#1d98ce"/>
<text x="167.90" y="703.40" font-size="8.3" text-anchor="start" fill="#2b2b2b" font-weight="normal" textLength="27.11" lengthAdjust="spacingAndGlyphs">KNG1*°</text>
<rect x="100.80" y="704.30" width="7.78" height="7.81" fill="#fbf3ef"/>
<rect x="108.52" y="704.30" width="7.78" height="7.81" fill="#a8d6ec"/>
<rect x="116.24" y="704.30" width="7.78" height="7.81" fill="#f1f5f7"/>
<rect x="128.20" y="704.30" width="7.78" height="7.81" fill="#fcece4"/>
<rect x="135.92" y="704.30" width="7.78" height="7.81" fill="#9bd1ea"/>
<rect x="143.64" y="704.30" width="7.78" height="7.81" fill="#229fd2"/>
<rect x="156.00" y="704.30" width="7.78" height="7.81" fill="#1d98ce"/>
<text x="167.90" y="711.15" font-size="8.3" text-anchor="start" fill="#2b2b2b" font-weight="normal" textLength="18.82" lengthAdjust="spacingAndGlyphs">F11*°</text>
<rect x="100.80" y="712.05" width="7.78" height="7.81" fill="#fbf3ef"/>
<rect x="108.52" y="712.05" width="7.78" height="7.81" fill="#f1f5f7"/>
<rect x="116.24" y="712.05" width="7.78" height="7.81" fill="#f8f8f8"/>
<rect x="128.20" y="712.05" width="7.78" height="7.81" fill="#fcece4"/>
<rect x="135.92" y="712.05" width="7.78" height="7.81" fill="#82c7e5"/>
<rect x="143.64" y="712.05" width="7.78" height="7.81" fill="#28a3d4"/>
<rect x="156.00" y="712.05" width="7.78" height="7.81" fill="#48acd8"/>
<text x="167.90" y="718.90" font-size="8.3" text-anchor="start" fill="#2b2b2b" font-weight="normal" textLength="15.10" lengthAdjust="spacingAndGlyphs">F7*°</text>
<rect x="100.80" y="719.80" width="7.78" height="7.81" fill="#fbdaca"/>
<rect x="108.52" y="719.80" width="7.78" height="7.81" fill="#1d98ce"/>
<rect x="116.24" y="719.80" width="7.78" height="7.81" fill="#eaf1f6"/>
<rect x="128.20" y="719.80" width="7.78" height="7.81" fill="#f1f5f7"/>
<rect x="135.92" y="719.80" width="7.78" height="7.81" fill="#9bd1ea"/>
<rect x="143.64" y="719.80" width="7.78" height="7.81" fill="#48acd8"/>
<rect x="156.00" y="719.80" width="7.78" height="7.81" fill="#e0eef6"/>
<text x="167.90" y="726.65" font-size="8.3" text-anchor="start" fill="#2b2b2b" font-weight="normal" textLength="12.01" lengthAdjust="spacingAndGlyphs">F8*</text>
<rect x="100.80" y="727.55" width="7.78" height="7.81" fill="#f8c0a8"/>
<rect x="108.52" y="727.55" width="7.78" height="7.81" fill="#5db6dd"/>
<rect x="116.24" y="727.55" width="7.78" height="7.81" fill="#eaf1f6"/>
<rect x="128.20" y="727.55" width="7.78" height="7.81" fill="#eaf1f6"/>
<rect x="135.92" y="727.55" width="7.78" height="7.81" fill="#82c7e5"/>
<rect x="143.64" y="727.55" width="7.78" height="7.81" fill="#72bfe2"/>
<rect x="156.00" y="727.55" width="7.78" height="7.81" fill="#f8f8f8"/>
<text x="167.90" y="734.40" font-size="8.3" text-anchor="start" fill="#2b2b2b" font-weight="normal" textLength="85.67" lengthAdjust="spacingAndGlyphs">PRCP - LOC102131283*</text>
<rect x="100.80" y="735.30" width="7.78" height="7.81" fill="#f8f8f8"/>
<rect x="108.52" y="735.30" width="7.78" height="7.81" fill="#127fc0"/>
<rect x="116.24" y="735.30" width="7.78" height="7.81" fill="#b4dbee"/>
<rect x="128.20" y="735.30" width="7.78" height="7.81" fill="#f1f5f7"/>
<rect x="135.92" y="735.30" width="7.78" height="7.81" fill="#1d98ce"/>
<rect x="143.64" y="735.30" width="7.78" height="7.81" fill="#82c7e5"/>
<rect x="156.00" y="735.30" width="7.78" height="7.81" fill="#5db6dd"/>
<text x="167.90" y="742.15" font-size="8.3" text-anchor="start" fill="#2b2b2b" font-weight="normal" textLength="32.26" lengthAdjust="spacingAndGlyphs">PROS1*°</text>
<rect x="100.80" y="743.05" width="7.78" height="7.81" fill="#fcece4"/>
<rect x="108.52" y="743.05" width="7.78" height="7.81" fill="#82c7e5"/>
<rect x="116.24" y="743.05" width="7.78" height="7.81" fill="#eaf1f6"/>
<rect x="128.20" y="743.05" width="7.78" height="7.81" fill="#f1f5f7"/>
<rect x="135.92" y="743.05" width="7.78" height="7.81" fill="#1d98ce"/>
<rect x="143.64" y="743.05" width="7.78" height="7.81" fill="#28a3d4"/>
<rect x="156.00" y="743.05" width="7.78" height="7.81" fill="#72bfe2"/>
<text x="167.90" y="749.90" font-size="8.3" text-anchor="start" fill="#2b2b2b" font-weight="normal" textLength="41.19" lengthAdjust="spacingAndGlyphs">SERPINA5*</text>
<rect x="100.80" y="750.80" width="7.78" height="7.81" fill="#b4dbee"/>
<rect x="108.52" y="750.80" width="7.78" height="7.81" fill="#1589c5"/>
<rect x="116.24" y="750.80" width="7.78" height="7.81" fill="#1589c5"/>
<rect x="128.20" y="750.80" width="7.78" height="7.81" fill="#eaf1f6"/>
<rect x="135.92" y="750.80" width="7.78" height="7.81" fill="#1d98ce"/>
<rect x="143.64" y="750.80" width="7.78" height="7.81" fill="#229fd2"/>
<rect x="156.00" y="750.80" width="7.78" height="7.81" fill="#e0eef6"/>
<text x="167.90" y="757.65" font-size="8.3" text-anchor="start" fill="#2b2b2b" font-weight="normal" textLength="17.59" lengthAdjust="spacingAndGlyphs">F2R*</text>
<rect x="100.80" y="758.55" width="7.78" height="7.81" fill="#bfe0f0"/>
<rect x="108.52" y="758.55" width="7.78" height="7.81" fill="#f8f8f8"/>
<rect x="116.24" y="758.55" width="7.78" height="7.81" fill="#82c7e5"/>
<rect x="128.20" y="758.55" width="7.78" height="7.81" fill="#f1f5f7"/>
<rect x="135.92" y="758.55" width="7.78" height="7.81" fill="#fbf3ef"/>
<rect x="143.64" y="758.55" width="7.78" height="7.81" fill="#eaf1f6"/>
<rect x="156.00" y="758.55" width="7.78" height="7.81" fill="#30a5d5"/>
<text x="167.90" y="765.40" font-size="8.3" text-anchor="start" fill="#2b2b2b" font-weight="normal" textLength="30.96" lengthAdjust="spacingAndGlyphs">PROCR°</text>
<rect x="100.80" y="780.80" width="7.78" height="7.81" fill="#e0eef6"/>
<rect x="108.52" y="780.80" width="7.78" height="7.81" fill="#eaf1f6"/>
<rect x="116.24" y="780.80" width="7.78" height="7.81" fill="#b4dbee"/>
<rect x="128.20" y="780.80" width="7.78" height="7.81" fill="#f8f8f8"/>
<rect x="135.92" y="780.80" width="7.78" height="7.81" fill="#bfe0f0"/>
<rect x="143.64" y="780.80" width="7.78" height="7.81" fill="#127fc0"/>
<rect x="156.00" y="780.80" width="7.78" height="7.81" fill="#127fc0"/>
<text x="167.90" y="787.65" font-size="8.3" text-anchor="start" fill="#2b2b2b" font-weight="normal" textLength="23.24" lengthAdjust="spacingAndGlyphs">HRG*°</text>
<rect x="100.80" y="788.55" width="7.78" height="7.81" fill="#fbe2d6"/>
<rect x="108.52" y="788.55" width="7.78" height="7.81" fill="#1891ca"/>
<rect x="116.24" y="788.55" width="7.78" height="7.81" fill="#eaf1f6"/>
<rect x="128.20" y="788.55" width="7.78" height="7.81" fill="#f8f8f8"/>
<rect x="135.92" y="788.55" width="7.78" height="7.81" fill="#bfe0f0"/>
<rect x="143.64" y="788.55" width="7.78" height="7.81" fill="#1d98ce"/>
<rect x="156.00" y="788.55" width="7.78" height="7.81" fill="#229fd2"/>
<text x="167.90" y="795.40" font-size="8.3" text-anchor="start" fill="#2b2b2b" font-weight="normal" textLength="21.54" lengthAdjust="spacingAndGlyphs">PLG*°</text>
<rect x="100.80" y="796.30" width="7.78" height="7.81" fill="#d6eaf4"/>
<rect x="108.52" y="796.30" width="7.78" height="7.81" fill="#1891ca"/>
<rect x="116.24" y="796.30" width="7.78" height="7.81" fill="#82c7e5"/>
<rect x="128.20" y="796.30" width="7.78" height="7.81" fill="#f8f8f8"/>
<rect x="135.92" y="796.30" width="7.78" height="7.81" fill="#229fd2"/>
<rect x="143.64" y="796.30" width="7.78" height="7.81" fill="#fad2bf"/>
<rect x="156.00" y="796.30" width="7.78" height="7.81" fill="#ee6b4e"/>
<text x="167.90" y="803.15" font-size="8.3" text-anchor="start" fill="#2b2b2b" font-weight="normal" textLength="23.25" lengthAdjust="spacingAndGlyphs">PLAU°</text>
<rect x="100.80" y="804.05" width="7.78" height="7.81" fill="#fbf3ef"/>
<rect x="108.52" y="804.05" width="7.78" height="7.81" fill="#ef7553"/>
<rect x="116.24" y="804.05" width="7.78" height="7.81" fill="#f7b79b"/>
<rect x="128.20" y="804.05" width="7.78" height="7.81" fill="#fbe2d6"/>
<rect x="135.92" y="804.05" width="7.78" height="7.81" fill="#fbe2d6"/>
<rect x="143.64" y="804.05" width="7.78" height="7.81" fill="#f49875"/>
<rect x="156.00" y="804.05" width="7.78" height="7.81" fill="#ea4f41"/>
<text x="167.90" y="810.90" font-size="8.3" text-anchor="start" fill="#2b2b2b" font-weight="normal" textLength="28.83" lengthAdjust="spacingAndGlyphs">PLAUR°</text>
<rect x="100.80" y="811.80" width="7.78" height="7.81" fill="#f9f5f3"/>
<rect x="108.52" y="811.80" width="7.78" height="7.81" fill="#eaf1f6"/>
<rect x="116.24" y="811.80" width="7.78" height="7.81" fill="#fbf3ef"/>
<rect x="128.20" y="811.80" width="7.78" height="7.81" fill="#f1f5f7"/>
<rect x="135.92" y="811.80" width="7.78" height="7.81" fill="#eaf1f6"/>
<rect x="143.64" y="811.80" width="7.78" height="7.81" fill="#ce1438"/>
<rect x="156.00" y="811.80" width="7.78" height="7.81" fill="#ea4f41"/>
<text x="167.90" y="818.65" font-size="8.3" text-anchor="start" fill="#2b2b2b" font-weight="normal" textLength="44.27" lengthAdjust="spacingAndGlyphs">SERPINE1*°</text>
<rect x="100.80" y="819.55" width="7.78" height="7.81" fill="#cbe5f2"/>
<rect x="108.52" y="819.55" width="7.78" height="7.81" fill="#eaf1f6"/>
<rect x="116.24" y="819.55" width="7.78" height="7.81" fill="#fbe2d6"/>
<rect x="128.20" y="819.55" width="7.78" height="7.81" fill="#48acd8"/>
<rect x="135.92" y="819.55" width="7.78" height="7.81" fill="#e0eef6"/>
<rect x="143.64" y="819.55" width="7.78" height="7.81" fill="#f28c69"/>
<rect x="156.00" y="819.55" width="7.78" height="7.81" fill="#ec5844"/>
<text x="167.90" y="826.40" font-size="8.3" text-anchor="start" fill="#2b2b2b" font-weight="normal" textLength="28.40" lengthAdjust="spacingAndGlyphs">ANXA2°</text>
<text x="96.40" y="292.90" font-size="7.9" text-anchor="end" fill="#2b2b2b" font-weight="normal" textLength="41.8" lengthAdjust="spacingAndGlyphs">HALLMARK</text>
<text x="96.40" y="302.60" font-size="7.9" text-anchor="end" fill="#2b2b2b" font-weight="normal" textLength="43.5" lengthAdjust="spacingAndGlyphs">Coagulation</text>
<text x="96.50" y="671.10" font-size="7.9" text-anchor="end" fill="#2b2b2b" font-weight="normal" textLength="43.7" lengthAdjust="spacingAndGlyphs">REACTOME</text>
<text x="96.50" y="680.80" font-size="7.9" text-anchor="end" fill="#2b2b2b" font-weight="normal" textLength="60" lengthAdjust="spacingAndGlyphs">Clotting cascade</text>
<text x="96.20" y="801.90" font-size="7.9" text-anchor="end" fill="#2b2b2b" font-weight="normal" textLength="43.5" lengthAdjust="spacingAndGlyphs">REACTOME</text>
<text x="96.20" y="811.30" font-size="7.9" text-anchor="end" fill="#2b2b2b" font-weight="normal" textLength="84.7" lengthAdjust="spacingAndGlyphs">Dissolution of fibrin clot</text>
<text transform="translate(107.40,831.6) rotate(-90)" font-size="8.4" text-anchor="end" fill="#2b2b2b" textLength="31.89" lengthAdjust="spacingAndGlyphs">AV 2 DPI</text>
<text transform="translate(116.70,831.6) rotate(-90)" font-size="8.4" text-anchor="end" fill="#2b2b2b" textLength="31.89" lengthAdjust="spacingAndGlyphs">AV 5 DPI</text>
<text transform="translate(126.00,831.6) rotate(-90)" font-size="8.4" text-anchor="end" fill="#2b2b2b" textLength="35.69" lengthAdjust="spacingAndGlyphs">AV 11 DPI</text>
<text transform="translate(135.30,831.6) rotate(-90)" font-size="8.4" text-anchor="end" fill="#2b2b2b" textLength="44.76" lengthAdjust="spacingAndGlyphs">Josiah 2 DPI</text>
<text transform="translate(144.60,831.6) rotate(-90)" font-size="8.4" text-anchor="end" fill="#2b2b2b" textLength="44.76" lengthAdjust="spacingAndGlyphs">Josiah 5 DPI</text>
<text transform="translate(153.90,831.6) rotate(-90)" font-size="8.4" text-anchor="end" fill="#2b2b2b" textLength="48.57" lengthAdjust="spacingAndGlyphs">Josiah 11 DPI</text>
<text transform="translate(163.20,831.6) rotate(-90)" font-size="8.4" text-anchor="end" fill="#2b2b2b" textLength="22.81" lengthAdjust="spacingAndGlyphs">MACV</text>
<defs><linearGradient id="cb" x1="0" y1="0" x2="0" y2="1"><stop offset="0.0000" stop-color="rgb(208, 21, 58)"/><stop offset="0.0577" stop-color="rgb(226, 50, 56)"/><stop offset="0.1154" stop-color="rgb(234, 80, 62)"/><stop offset="0.1923" stop-color="rgb(240, 126, 88)"/><stop offset="0.2500" stop-color="rgb(244, 158, 120)"/><stop offset="0.3077" stop-color="rgb(248, 196, 172)"/><stop offset="0.3654" stop-color="rgb(251, 218, 204)"/><stop offset="0.4327" stop-color="rgb(252, 236, 230)"/><stop offset="0.5000" stop-color="rgb(249, 248, 248)"/><stop offset="0.5769" stop-color="rgb(236, 243, 248)"/><stop offset="0.6346" stop-color="rgb(214, 235, 244)"/><stop offset="0.6923" stop-color="rgb(170, 216, 236)"/><stop offset="0.7500" stop-color="rgb(118, 196, 228)"/><stop offset="0.8077" stop-color="rgb(60, 170, 216)"/><stop offset="0.8846" stop-color="rgb(30, 156, 208)"/><stop offset="0.9423" stop-color="rgb(18, 134, 196)"/><stop offset="1.0000" stop-color="rgb(10, 106, 178)"/></linearGradient></defs>
<rect x="232.5" y="24.2" width="11.4" height="165.8" fill="url(#cb)"/>
<text x="247.40" y="46.50" font-size="9.0" text-anchor="start" fill="#333" font-weight="normal" >2</text>
<text x="247.40" y="78.80" font-size="9.0" text-anchor="start" fill="#333" font-weight="normal" >1</text>
<text x="247.40" y="111.40" font-size="9.0" text-anchor="start" fill="#333" font-weight="normal" >0</text>
<text x="247.40" y="144.20" font-size="9.0" text-anchor="start" fill="#333" font-weight="normal" >–1</text>
<text x="247.40" y="177.10" font-size="9.0" text-anchor="start" fill="#333" font-weight="normal" >–2</text>
<text x="8.00" y="20.50" font-size="15.2" text-anchor="start" fill="#111" font-weight="bold" >A</text>
<text x="275.30" y="162.50" font-size="15.2" text-anchor="start" fill="#111" font-weight="bold" >B</text>
<text x="409.40" y="174.80" font-size="9.6" text-anchor="middle" fill="#222" font-weight="normal" textLength="117.1" lengthAdjust="spacingAndGlyphs">HALLMARK Coagulation</text>
<text transform="translate(284.0,255.47) rotate(-90)" font-size="8.9" text-anchor="middle" fill="#2b2b2b" textLength="94" lengthAdjust="spacingAndGlyphs">Average gene expression</text>
<line x1="307.0" y1="243.5" x2="511.8" y2="243.5" stroke="#3a3a3a" stroke-width="0.8"/>
<line x1="303" y1="188.62" x2="307.0" y2="188.62" stroke="#222" stroke-width="1"/>
<text x="299.60" y="191.62" font-size="8.3" text-anchor="end" fill="#333" font-weight="normal" >4</text>
<line x1="303" y1="216.06" x2="307.0" y2="216.06" stroke="#222" stroke-width="1"/>
<text x="299.60" y="219.06" font-size="8.3" text-anchor="end" fill="#333" font-weight="normal" >2</text>
<line x1="303" y1="243.50" x2="307.0" y2="243.50" stroke="#222" stroke-width="1"/>
<text x="299.60" y="246.50" font-size="8.3" text-anchor="end" fill="#333" font-weight="normal" >0</text>
<line x1="303" y1="270.94" x2="307.0" y2="270.94" stroke="#222" stroke-width="1"/>
<text x="299.60" y="273.94" font-size="8.3" text-anchor="end" fill="#333" font-weight="normal" >–2</text>
<line x1="303" y1="298.38" x2="307.0" y2="298.38" stroke="#222" stroke-width="1"/>
<text x="299.60" y="301.38" font-size="8.3" text-anchor="end" fill="#333" font-weight="normal" >–4</text>
<line x1="303" y1="325.82" x2="307.0" y2="325.82" stroke="#222" stroke-width="1"/>
<text x="299.60" y="328.82" font-size="8.3" text-anchor="end" fill="#333" font-weight="normal" >–6</text>
<line x1="307.0" y1="185.12" x2="307.0" y2="326.52" stroke="#222" stroke-width="1.4"/>
<line x1="306.3" y1="325.82" x2="512" y2="325.82" stroke="#222" stroke-width="1.4"/>
<line x1="321.40" y1="325.82" x2="321.40" y2="329.82" stroke="#222" stroke-width="1"/>
<line x1="343.30" y1="325.82" x2="343.30" y2="329.82" stroke="#222" stroke-width="1"/>
<line x1="365.20" y1="325.82" x2="365.20" y2="329.82" stroke="#222" stroke-width="1"/>
<line x1="387.10" y1="325.82" x2="387.10" y2="329.82" stroke="#222" stroke-width="1"/>
<line x1="409.00" y1="325.82" x2="409.00" y2="329.82" stroke="#222" stroke-width="1"/>
<line x1="430.90" y1="325.82" x2="430.90" y2="329.82" stroke="#222" stroke-width="1"/>
<line x1="452.80" y1="325.82" x2="452.80" y2="329.82" stroke="#222" stroke-width="1"/>
<line x1="474.70" y1="325.82" x2="474.70" y2="329.82" stroke="#222" stroke-width="1"/>
<line x1="496.60" y1="325.82" x2="496.60" y2="329.82" stroke="#222" stroke-width="1"/>
<line x1="314.00" y1="243.5" x2="328.80" y2="243.5" stroke="#1a1a1a" stroke-width="1.5"/>
<line x1="467.30" y1="243.5" x2="482.10" y2="243.5" stroke="#1a1a1a" stroke-width="1.5"/>
<line x1="343.30" y1="216.9" x2="343.30" y2="278.7" stroke="#333" stroke-width="1.1"/>
<path d="M343.30,222.70 L343.80,223.20 C343.95,224.00 344.32,226.42 344.70,228.00 C345.07,229.58 345.45,231.27 346.05,232.70 C346.65,234.13 347.56,234.83 348.30,236.60 C349.04,238.37 350.50,241.33 350.50,243.30 C350.50,245.27 349.10,246.75 348.30,248.40 C347.50,250.05 346.45,251.75 345.70,253.20 C344.95,254.65 344.12,256.45 343.80,257.10 L343.30,257.60 L342.80,257.10 C342.48,256.45 341.65,254.65 340.90,253.20 C340.15,251.75 339.10,250.05 338.30,248.40 C337.50,246.75 336.10,245.27 336.10,243.30 C336.10,241.33 337.56,238.37 338.30,236.60 C339.04,234.83 339.95,234.13 340.55,232.70 C341.15,231.27 341.52,229.58 341.90,228.00 C342.27,226.42 342.65,224.00 342.80,223.20 Z" fill="#ec3b30" stroke="#330c0a" stroke-width="0.9" stroke-linejoin="round"/>
<line x1="337.97" y1="237.6" x2="348.63" y2="237.6" stroke="#521410" stroke-width="0.5" opacity="0.45"/>
<line x1="336.10" y1="243.3" x2="350.50" y2="243.3" stroke="#521410" stroke-width="0.85" opacity="0.8"/>
<line x1="338.68" y1="249.1" x2="347.92" y2="249.1" stroke="#521410" stroke-width="0.5" opacity="0.45"/>
<line x1="365.20" y1="202.0" x2="365.20" y2="282.5" stroke="#333" stroke-width="1.1"/>
<path d="M365.20,212.70 L365.70,213.20 C365.85,214.00 366.27,216.32 366.60,218.00 C366.93,219.68 367.35,221.57 367.70,223.30 C368.05,225.03 368.57,226.88 368.70,228.40 C368.83,229.92 368.15,230.72 368.50,232.40 C368.85,234.08 370.25,236.65 370.80,238.50 C371.35,240.35 371.57,241.48 371.80,243.50 C372.03,245.52 372.28,248.07 372.20,250.60 C372.12,253.13 371.82,256.00 371.30,258.70 C370.78,261.40 369.82,264.43 369.10,266.80 C368.38,269.17 367.57,271.03 367.00,272.90 C366.43,274.77 365.92,277.15 365.70,278.00 L365.20,278.50 L364.70,278.00 C364.48,277.15 363.97,274.77 363.40,272.90 C362.83,271.03 362.02,269.17 361.30,266.80 C360.58,264.43 359.62,261.40 359.10,258.70 C358.58,256.00 358.28,253.13 358.20,250.60 C358.12,248.07 358.37,245.52 358.60,243.50 C358.83,241.48 359.05,240.35 359.60,238.50 C360.15,236.65 361.55,234.08 361.90,232.40 C362.25,230.72 361.57,229.92 361.70,228.40 C361.83,226.88 362.35,225.03 362.70,223.30 C363.05,221.57 363.47,219.68 363.80,218.00 C364.13,216.32 364.55,214.00 364.70,213.20 Z" fill="#ef3d17" stroke="#340d05" stroke-width="0.9" stroke-linejoin="round"/>
<line x1="359.50" y1="239" x2="370.90" y2="239" stroke="#531508" stroke-width="0.5" opacity="0.45"/>
<line x1="358.33" y1="248.3" x2="372.07" y2="248.3" stroke="#531508" stroke-width="0.85" opacity="0.8"/>
<line x1="359.04" y1="258.2" x2="371.36" y2="258.2" stroke="#531508" stroke-width="0.5" opacity="0.45"/>
<line x1="387.10" y1="194.3" x2="387.10" y2="298.3" stroke="#333" stroke-width="1.1"/>
<path d="M387.10,203.70 L387.60,204.20 C387.93,204.93 389.17,206.83 389.60,208.60 C390.03,210.37 389.95,211.72 390.20,214.80 C390.45,217.88 390.83,222.98 391.10,227.10 C391.37,231.22 391.60,235.98 391.80,239.50 C392.00,243.02 392.15,245.72 392.30,248.20 C392.45,250.68 392.43,252.13 392.70,254.40 C392.97,256.67 393.93,259.33 393.90,261.80 C393.87,264.27 393.00,266.73 392.50,269.20 C392.00,271.67 391.50,274.13 390.90,276.60 C390.30,279.07 389.45,282.03 388.90,284.00 C388.35,285.97 387.82,287.67 387.60,288.40 L387.10,288.90 L386.60,288.40 C386.38,287.67 385.85,285.97 385.30,284.00 C384.75,282.03 383.90,279.07 383.30,276.60 C382.70,274.13 382.20,271.67 381.70,269.20 C381.20,266.73 380.33,264.27 380.30,261.80 C380.27,259.33 381.23,256.67 381.50,254.40 C381.77,252.13 381.75,250.68 381.90,248.20 C382.05,245.72 382.20,243.02 382.40,239.50 C382.60,235.98 382.83,231.22 383.10,227.10 C383.37,222.98 383.75,217.88 384.00,214.80 C384.25,211.72 384.17,210.37 384.60,208.60 C385.03,206.83 386.27,204.93 386.60,204.20 Z" fill="#c8090b" stroke="#2c0102" stroke-width="0.9" stroke-linejoin="round"/>
<line x1="382.78" y1="232.7" x2="391.42" y2="232.7" stroke="#460303" stroke-width="0.5" opacity="0.45"/>
<line x1="381.76" y1="250.4" x2="392.44" y2="250.4" stroke="#460303" stroke-width="0.85" opacity="0.8"/>
<line x1="380.53" y1="263" x2="393.67" y2="263" stroke="#460303" stroke-width="0.5" opacity="0.45"/>
<line x1="409.00" y1="218.3" x2="409.00" y2="264.8" stroke="#333" stroke-width="1.1"/>
<path d="M409.00,224.50 L409.50,225.00 C409.60,225.30 410.03,226.05 410.10,226.80 C410.17,227.55 409.92,228.70 409.90,229.50 C409.88,230.30 409.62,230.73 410.00,231.60 C410.38,232.47 411.53,233.58 412.20,234.70 C412.87,235.82 413.40,236.93 414.00,238.30 C414.60,239.67 415.87,241.48 415.80,242.90 C415.73,244.32 414.33,245.53 413.60,246.80 C412.87,248.07 411.87,249.58 411.40,250.50 C410.93,251.42 410.87,251.70 410.80,252.30 C410.73,252.90 411.22,253.38 411.00,254.10 C410.78,254.82 409.75,256.18 409.50,256.60 L409.00,257.10 L408.50,256.60 C408.25,256.18 407.22,254.82 407.00,254.10 C406.78,253.38 407.27,252.90 407.20,252.30 C407.13,251.70 407.07,251.42 406.60,250.50 C406.13,249.58 405.13,248.07 404.40,246.80 C403.67,245.53 402.27,244.32 402.20,242.90 C402.13,241.48 403.40,239.67 404.00,238.30 C404.60,236.93 405.13,235.82 405.80,234.70 C406.47,233.58 407.62,232.47 408.00,231.60 C408.38,230.73 408.12,230.30 408.10,229.50 C408.08,228.70 407.83,227.55 407.90,226.80 C407.97,226.05 408.40,225.30 408.50,225.00 Z" fill="#3c8fd7" stroke="#0d1f2f" stroke-width="0.9" stroke-linejoin="round"/>
<line x1="403.53" y1="239.5" x2="414.47" y2="239.5" stroke="#15324b" stroke-width="0.5" opacity="0.45"/>
<line x1="402.32" y1="242.6" x2="415.68" y2="242.6" stroke="#15324b" stroke-width="0.85" opacity="0.8"/>
<line x1="403.72" y1="245.6" x2="414.28" y2="245.6" stroke="#15324b" stroke-width="0.5" opacity="0.45"/>
<line x1="430.90" y1="205.1" x2="430.90" y2="286.0" stroke="#333" stroke-width="1.1"/>
<path d="M430.90,210.60 L431.40,211.10 C431.70,212.62 432.65,217.33 433.20,220.20 C433.75,223.07 434.03,225.77 434.70,228.30 C435.37,230.83 436.70,233.37 437.20,235.40 C437.70,237.43 437.62,237.97 437.70,240.50 C437.78,243.03 437.80,247.23 437.70,250.60 C437.60,253.97 437.35,258.00 437.10,260.70 C436.85,263.40 436.77,264.77 436.20,266.80 C435.63,268.83 434.50,270.87 433.70,272.90 C432.90,274.93 431.78,277.98 431.40,279.00 L430.90,279.50 L430.40,279.00 C430.02,277.98 428.90,274.93 428.10,272.90 C427.30,270.87 426.17,268.83 425.60,266.80 C425.03,264.77 424.95,263.40 424.70,260.70 C424.45,258.00 424.20,253.97 424.10,250.60 C424.00,247.23 424.02,243.03 424.10,240.50 C424.18,237.97 424.10,237.43 424.60,235.40 C425.10,233.37 426.43,230.83 427.10,228.30 C427.77,225.77 428.05,223.07 428.60,220.20 C429.15,217.33 430.10,212.62 430.40,211.10 Z" fill="#14a0c4" stroke="#04232b" stroke-width="0.9" stroke-linejoin="round"/>
<line x1="424.35" y1="238" x2="437.45" y2="238" stroke="#073844" stroke-width="0.5" opacity="0.45"/>
<line x1="424.10" y1="247.1" x2="437.70" y2="247.1" stroke="#073844" stroke-width="0.85" opacity="0.8"/>
<line x1="424.64" y1="259.7" x2="437.16" y2="259.7" stroke="#073844" stroke-width="0.5" opacity="0.45"/>
<line x1="452.80" y1="203.6" x2="452.80" y2="284.0" stroke="#333" stroke-width="1.1"/>
<path d="M452.80,211.50 L453.20,212.00 C453.27,213.03 453.20,215.82 453.60,218.20 C454.00,220.58 455.02,224.10 455.60,226.30 C456.18,228.50 456.60,229.70 457.10,231.40 C457.60,233.10 458.27,234.48 458.60,236.50 C458.93,238.52 458.93,241.32 459.10,243.50 C459.27,245.68 459.77,247.73 459.60,249.60 C459.43,251.47 458.57,253.18 458.10,254.70 C457.63,256.22 456.80,257.35 456.80,258.70 C456.80,260.05 458.22,261.28 458.10,262.80 C457.98,264.32 456.90,266.28 456.10,267.80 C455.30,269.32 453.77,271.22 453.30,271.90 L452.80,272.40 L452.30,271.90 C451.83,271.22 450.30,269.32 449.50,267.80 C448.70,266.28 447.62,264.32 447.50,262.80 C447.38,261.28 448.80,260.05 448.80,258.70 C448.80,257.35 447.97,256.22 447.50,254.70 C447.03,253.18 446.17,251.47 446.00,249.60 C445.83,247.73 446.33,245.68 446.50,243.50 C446.67,241.32 446.67,238.52 447.00,236.50 C447.33,234.48 448.00,233.10 448.50,231.40 C449.00,229.70 449.42,228.50 450.00,226.30 C450.58,224.10 451.60,220.58 452.00,218.20 C452.40,215.82 452.33,213.03 452.40,212.00 Z" fill="#0a8ca8" stroke="#021e24" stroke-width="0.9" stroke-linejoin="round"/>
<line x1="446.96" y1="237" x2="458.64" y2="237" stroke="#03313a" stroke-width="0.5" opacity="0.45"/>
<line x1="446.20" y1="247.1" x2="459.40" y2="247.1" stroke="#03313a" stroke-width="0.85" opacity="0.8"/>
<line x1="447.92" y1="256" x2="457.68" y2="256" stroke="#03313a" stroke-width="0.5" opacity="0.45"/>
<line x1="496.60" y1="204.1" x2="496.60" y2="282.0" stroke="#333" stroke-width="1.1"/>
<path d="M496.60,210.70 L497.10,211.20 C497.40,211.87 498.42,213.52 498.90,215.20 C499.38,216.88 499.85,219.10 500.00,221.30 C500.15,223.50 499.95,225.87 499.80,228.40 C499.65,230.93 499.28,233.98 499.10,236.50 C498.92,239.02 498.67,240.98 498.70,243.50 C498.73,246.02 498.93,249.40 499.30,251.60 C499.67,253.80 500.25,254.67 500.90,256.70 C501.55,258.73 503.20,261.77 503.20,263.80 C503.20,265.83 501.92,267.38 500.90,268.90 C499.88,270.42 497.73,272.23 497.10,272.90 L496.60,273.40 L496.10,272.90 C495.47,272.23 493.32,270.42 492.30,268.90 C491.28,267.38 490.00,265.83 490.00,263.80 C490.00,261.77 491.65,258.73 492.30,256.70 C492.95,254.67 493.53,253.80 493.90,251.60 C494.27,249.40 494.47,246.02 494.50,243.50 C494.53,240.98 494.28,239.02 494.10,236.50 C493.92,233.98 493.55,230.93 493.40,228.40 C493.25,225.87 493.05,223.50 493.20,221.30 C493.35,219.10 493.82,216.88 494.30,215.20 C494.78,213.52 495.80,211.87 496.10,211.20 Z" fill="#9a2c9c" stroke="#210922" stroke-width="0.9" stroke-linejoin="round"/>
<line x1="494.34" y1="245.6" x2="498.86" y2="245.6" stroke="#350f36" stroke-width="0.5" opacity="0.45"/>
<line x1="494.05" y1="249.6" x2="499.15" y2="249.6" stroke="#350f36" stroke-width="0.85" opacity="0.8"/>
<line x1="490.23" y1="264.3" x2="502.97" y2="264.3" stroke="#350f36" stroke-width="0.5" opacity="0.45"/>
<text x="409.40" y="357.30" font-size="9.6" text-anchor="middle" fill="#222" font-weight="normal" textLength="142.3" lengthAdjust="spacingAndGlyphs">REACTOME Clotting cascade</text>
<text transform="translate(284.0,440.47) rotate(-90)" font-size="8.9" text-anchor="middle" fill="#2b2b2b" textLength="94" lengthAdjust="spacingAndGlyphs">Average gene expression</text>
<line x1="307.0" y1="428.5" x2="511.8" y2="428.5" stroke="#3a3a3a" stroke-width="0.8"/>
<line x1="303" y1="373.62" x2="307.0" y2="373.62" stroke="#222" stroke-width="1"/>
<text x="299.60" y="376.62" font-size="8.3" text-anchor="end" fill="#333" font-weight="normal" >4</text>
<line x1="303" y1="401.06" x2="307.0" y2="401.06" stroke="#222" stroke-width="1"/>
<text x="299.60" y="404.06" font-size="8.3" text-anchor="end" fill="#333" font-weight="normal" >2</text>
<line x1="303" y1="428.50" x2="307.0" y2="428.50" stroke="#222" stroke-width="1"/>
<text x="299.60" y="431.50" font-size="8.3" text-anchor="end" fill="#333" font-weight="normal" >0</text>
<line x1="303" y1="455.94" x2="307.0" y2="455.94" stroke="#222" stroke-width="1"/>
<text x="299.60" y="458.94" font-size="8.3" text-anchor="end" fill="#333" font-weight="normal" >–2</text>
<line x1="303" y1="483.38" x2="307.0" y2="483.38" stroke="#222" stroke-width="1"/>
<text x="299.60" y="486.38" font-size="8.3" text-anchor="end" fill="#333" font-weight="normal" >–4</text>
<line x1="303" y1="510.82" x2="307.0" y2="510.82" stroke="#222" stroke-width="1"/>
<text x="299.60" y="513.82" font-size="8.3" text-anchor="end" fill="#333" font-weight="normal" >–6</text>
<line x1="307.0" y1="370.12" x2="307.0" y2="511.52" stroke="#222" stroke-width="1.4"/>
<line x1="306.3" y1="510.82" x2="512" y2="510.82" stroke="#222" stroke-width="1.4"/>
<line x1="321.40" y1="510.82" x2="321.40" y2="514.82" stroke="#222" stroke-width="1"/>
<line x1="343.30" y1="510.82" x2="343.30" y2="514.82" stroke="#222" stroke-width="1"/>
<line x1="365.20" y1="510.82" x2="365.20" y2="514.82" stroke="#222" stroke-width="1"/>
<line x1="387.10" y1="510.82" x2="387.10" y2="514.82" stroke="#222" stroke-width="1"/>
<line x1="409.00" y1="510.82" x2="409.00" y2="514.82" stroke="#222" stroke-width="1"/>
<line x1="430.90" y1="510.82" x2="430.90" y2="514.82" stroke="#222" stroke-width="1"/>
<line x1="452.80" y1="510.82" x2="452.80" y2="514.82" stroke="#222" stroke-width="1"/>
<line x1="474.70" y1="510.82" x2="474.70" y2="514.82" stroke="#222" stroke-width="1"/>
<line x1="496.60" y1="510.82" x2="496.60" y2="514.82" stroke="#222" stroke-width="1"/>
<line x1="314.00" y1="428.5" x2="328.80" y2="428.5" stroke="#1a1a1a" stroke-width="1.5"/>
<line x1="467.30" y1="428.5" x2="482.10" y2="428.5" stroke="#1a1a1a" stroke-width="1.5"/>
<line x1="343.30" y1="406.0" x2="343.30" y2="452.2" stroke="#333" stroke-width="1.1"/>
<path d="M343.30,408.90 L343.70,409.40 C343.85,409.77 344.60,410.87 344.60,411.60 C344.60,412.33 343.82,412.48 343.70,413.80 C343.58,415.12 343.60,418.33 343.90,419.50 C344.20,420.67 344.78,420.07 345.50,420.80 C346.22,421.53 347.38,422.65 348.20,423.90 C349.02,425.15 350.03,426.83 350.40,428.30 C350.77,429.77 350.77,431.33 350.40,432.70 C350.03,434.07 349.02,435.23 348.20,436.50 C347.38,437.77 346.07,439.47 345.50,440.30 C344.93,441.13 344.83,440.80 344.80,441.50 C344.77,442.20 345.48,443.35 345.30,444.50 C345.12,445.65 343.97,447.75 343.70,448.40 L343.30,448.90 L342.90,448.40 C342.63,447.75 341.48,445.65 341.30,444.50 C341.12,443.35 341.83,442.20 341.80,441.50 C341.77,440.80 341.67,441.13 341.10,440.30 C340.53,439.47 339.22,437.77 338.40,436.50 C337.58,435.23 336.57,434.07 336.20,432.70 C335.83,431.33 335.83,429.77 336.20,428.30 C336.57,426.83 337.58,425.15 338.40,423.90 C339.22,422.65 340.38,421.53 341.10,420.80 C341.82,420.07 342.40,420.67 342.70,419.50 C343.00,418.33 343.02,415.12 342.90,413.80 C342.78,412.48 342.00,412.33 342.00,411.60 C342.00,410.87 342.75,409.77 342.90,409.40 Z" fill="#ec3b30" stroke="#330c0a" stroke-width="0.9" stroke-linejoin="round"/>
<line x1="336.20" y1="428.9" x2="350.40" y2="428.9" stroke="#521410" stroke-width="0.5" opacity="0.45"/>
<line x1="336.20" y1="431.4" x2="350.40" y2="431.4" stroke="#521410" stroke-width="0.85" opacity="0.8"/>
<line x1="336.95" y1="434" x2="349.65" y2="434" stroke="#521410" stroke-width="0.5" opacity="0.45"/>
<line x1="365.20" y1="386.0" x2="365.20" y2="469.0" stroke="#333" stroke-width="1.1"/>
<path d="M365.20,392.60 L365.50,393.10 C365.60,393.62 366.10,395.02 366.10,396.20 C366.10,397.38 365.55,397.50 365.50,400.20 C365.45,402.90 365.52,409.02 365.80,412.40 C366.08,415.78 366.72,418.15 367.20,420.50 C367.68,422.85 368.03,424.48 368.70,426.50 C369.37,428.52 370.93,430.90 371.20,432.60 C371.47,434.30 370.72,435.35 370.30,436.70 C369.88,438.05 368.33,439.02 368.70,440.70 C369.07,442.38 372.42,444.77 372.50,446.80 C372.58,448.83 370.12,450.88 369.20,452.90 C368.28,454.92 367.60,457.22 367.00,458.90 C366.40,460.58 365.83,462.32 365.60,463.00 L365.20,463.50 L364.80,463.00 C364.57,462.32 364.00,460.58 363.40,458.90 C362.80,457.22 362.12,454.92 361.20,452.90 C360.28,450.88 357.82,448.83 357.90,446.80 C357.98,444.77 361.33,442.38 361.70,440.70 C362.07,439.02 360.52,438.05 360.10,436.70 C359.68,435.35 358.93,434.30 359.20,432.60 C359.47,430.90 361.03,428.52 361.70,426.50 C362.37,424.48 362.72,422.85 363.20,420.50 C363.68,418.15 364.32,415.78 364.60,412.40 C364.88,409.02 364.95,402.90 364.90,400.20 C364.85,397.50 364.30,397.38 364.30,396.20 C364.30,395.02 364.80,393.62 364.90,393.10 Z" fill="#ef3d17" stroke="#340d05" stroke-width="0.9" stroke-linejoin="round"/>
<line x1="359.31" y1="433.1" x2="371.09" y2="433.1" stroke="#531508" stroke-width="0.5" opacity="0.45"/>
<line x1="360.45" y1="442.7" x2="369.95" y2="442.7" stroke="#531508" stroke-width="0.85" opacity="0.8"/>
<line x1="358.82" y1="448.5" x2="371.58" y2="448.5" stroke="#531508" stroke-width="0.5" opacity="0.45"/>
<line x1="387.10" y1="374.0" x2="387.10" y2="487.4" stroke="#333" stroke-width="1.1"/>
<path d="M387.10,385.70 L387.60,386.20 C387.85,387.33 388.89,389.87 389.10,393.00 C389.31,396.13 388.96,400.97 388.85,405.00 C388.74,409.03 388.52,413.37 388.45,417.20 C388.38,421.03 388.23,425.07 388.45,428.00 C388.67,430.93 389.12,432.55 389.80,434.80 C390.47,437.05 391.76,439.03 392.50,441.50 C393.24,443.97 394.25,446.90 394.25,449.60 C394.25,452.30 393.24,454.77 392.50,457.70 C391.76,460.63 390.62,464.05 389.80,467.20 C388.98,470.35 387.97,475.03 387.60,476.60 L387.10,477.10 L386.60,476.60 C386.23,475.03 385.22,470.35 384.40,467.20 C383.58,464.05 382.44,460.63 381.70,457.70 C380.96,454.77 379.95,452.30 379.95,449.60 C379.95,446.90 380.96,443.97 381.70,441.50 C382.44,439.03 383.72,437.05 384.40,434.80 C385.07,432.55 385.52,430.93 385.75,428.00 C385.97,425.07 385.82,421.03 385.75,417.20 C385.68,413.37 385.46,409.03 385.35,405.00 C385.24,400.97 384.89,396.13 385.10,393.00 C385.31,389.87 386.35,387.33 386.60,386.20 Z" fill="#c8090b" stroke="#2c0102" stroke-width="0.9" stroke-linejoin="round"/>
<line x1="381.59" y1="442" x2="392.61" y2="442" stroke="#460303" stroke-width="0.5" opacity="0.45"/>
<line x1="380.38" y1="447.6" x2="393.82" y2="447.6" stroke="#460303" stroke-width="0.85" opacity="0.8"/>
<line x1="381.12" y1="455" x2="393.08" y2="455" stroke="#460303" stroke-width="0.5" opacity="0.45"/>
<line x1="409.00" y1="409.6" x2="409.00" y2="449.5" stroke="#333" stroke-width="1.1"/>
<path d="M409.00,418.70 L409.80,419.20 C410.32,419.48 411.92,420.25 412.90,420.90 C413.88,421.55 415.27,422.37 415.70,423.10 C416.13,423.83 415.65,424.45 415.50,425.30 C415.35,426.15 415.23,427.07 414.80,428.20 C414.37,429.33 413.47,430.70 412.90,432.10 C412.33,433.50 411.92,435.20 411.40,436.60 C410.88,438.00 409.92,439.38 409.80,440.50 C409.68,441.62 410.77,442.27 410.70,443.30 C410.63,444.33 409.62,446.13 409.40,446.70 L409.00,447.20 L408.60,446.70 C408.38,446.13 407.37,444.33 407.30,443.30 C407.23,442.27 408.32,441.62 408.20,440.50 C408.08,439.38 407.12,438.00 406.60,436.60 C406.08,435.20 405.67,433.50 405.10,432.10 C404.53,430.70 403.63,429.33 403.20,428.20 C402.77,427.07 402.65,426.15 402.50,425.30 C402.35,424.45 401.87,423.83 402.30,423.10 C402.73,422.37 404.12,421.55 405.10,420.90 C406.08,420.25 407.68,419.48 408.20,419.20 Z" fill="#3c8fd7" stroke="#0d1f2f" stroke-width="0.9" stroke-linejoin="round"/>
<line x1="402.33" y1="423.4" x2="415.67" y2="423.4" stroke="#15324b" stroke-width="0.5" opacity="0.45"/>
<line x1="402.91" y1="427.0" x2="415.09" y2="427.0" stroke="#15324b" stroke-width="0.85" opacity="0.8"/>
<line x1="404.27" y1="430.4" x2="413.73" y2="430.4" stroke="#15324b" stroke-width="0.5" opacity="0.45"/>
<line x1="430.90" y1="392.3" x2="430.90" y2="469.3" stroke="#333" stroke-width="1.1"/>
<path d="M430.90,394.50 L431.20,395.00 C431.31,395.72 431.85,397.80 431.85,399.30 C431.85,400.80 431.26,401.32 431.20,404.00 C431.14,406.68 431.15,412.87 431.50,415.40 C431.85,417.93 433.08,417.47 433.30,419.20 C433.52,420.93 432.65,423.92 432.80,425.80 C432.95,427.68 433.68,428.92 434.20,430.50 C434.72,432.08 435.55,433.80 435.90,435.30 C436.25,436.80 435.92,438.25 436.30,439.50 C436.68,440.75 438.32,441.47 438.20,442.80 C438.08,444.13 436.42,445.60 435.60,447.50 C434.78,449.40 433.83,452.15 433.30,454.20 C432.77,456.25 432.73,458.23 432.40,459.80 C432.07,461.37 431.48,462.97 431.30,463.60 L430.90,464.10 L430.50,463.60 C430.32,462.97 429.73,461.37 429.40,459.80 C429.07,458.23 429.03,456.25 428.50,454.20 C427.97,452.15 427.02,449.40 426.20,447.50 C425.38,445.60 423.72,444.13 423.60,442.80 C423.48,441.47 425.12,440.75 425.50,439.50 C425.88,438.25 425.55,436.80 425.90,435.30 C426.25,433.80 427.08,432.08 427.60,430.50 C428.12,428.92 428.85,427.68 429.00,425.80 C429.15,423.92 428.28,420.93 428.50,419.20 C428.72,417.47 429.95,417.93 430.30,415.40 C430.65,412.87 430.66,406.68 430.60,404.00 C430.54,401.32 429.95,400.80 429.95,399.30 C429.95,397.80 430.49,395.72 430.60,395.00 Z" fill="#14a0c4" stroke="#04232b" stroke-width="0.9" stroke-linejoin="round"/>
<line x1="425.83" y1="436" x2="435.97" y2="436" stroke="#073844" stroke-width="0.5" opacity="0.45"/>
<line x1="424.41" y1="441.4" x2="437.39" y2="441.4" stroke="#073844" stroke-width="0.85" opacity="0.8"/>
<line x1="425.37" y1="446" x2="436.43" y2="446" stroke="#073844" stroke-width="0.5" opacity="0.45"/>
<line x1="452.80" y1="404.2" x2="452.80" y2="470.8" stroke="#333" stroke-width="1.1"/>
<path d="M452.80,410.30 L453.30,410.80 C453.63,411.50 454.76,413.60 455.30,415.00 C455.84,416.40 456.48,417.82 456.55,419.20 C456.62,420.58 456.04,421.92 455.70,423.30 C455.36,424.68 454.22,426.10 454.50,427.50 C454.78,428.90 456.52,430.17 457.40,431.70 C458.28,433.23 459.60,435.03 459.80,436.70 C460.00,438.37 459.14,440.03 458.60,441.70 C458.06,443.37 457.23,445.03 456.55,446.70 C455.87,448.37 454.96,449.77 454.50,451.70 C454.04,453.63 454.02,456.22 453.80,458.30 C453.58,460.38 453.30,463.22 453.20,464.20 L452.80,464.70 L452.40,464.20 C452.30,463.22 452.02,460.38 451.80,458.30 C451.58,456.22 451.56,453.63 451.10,451.70 C450.64,449.77 449.73,448.37 449.05,446.70 C448.37,445.03 447.54,443.37 447.00,441.70 C446.46,440.03 445.60,438.37 445.80,436.70 C446.00,435.03 447.32,433.23 448.20,431.70 C449.08,430.17 450.82,428.90 451.10,427.50 C451.38,426.10 450.24,424.68 449.90,423.30 C449.56,421.92 448.98,420.58 449.05,419.20 C449.12,417.82 449.76,416.40 450.30,415.00 C450.84,413.60 451.97,411.50 452.30,410.80 Z" fill="#0a8ca8" stroke="#021e24" stroke-width="0.9" stroke-linejoin="round"/>
<line x1="447.58" y1="433" x2="458.02" y2="433" stroke="#03313a" stroke-width="0.5" opacity="0.45"/>
<line x1="445.99" y1="437.5" x2="459.61" y2="437.5" stroke="#03313a" stroke-width="0.85" opacity="0.8"/>
<line x1="448.35" y1="445" x2="457.25" y2="445" stroke="#03313a" stroke-width="0.5" opacity="0.45"/>
<line x1="496.60" y1="390.0" x2="496.60" y2="470.2" stroke="#333" stroke-width="1.1"/>
<path d="M496.60,398.40 L497.10,398.90 C497.30,399.55 497.98,401.32 498.30,402.80 C498.62,404.28 499.00,405.65 499.00,407.80 C499.00,409.95 498.37,412.73 498.30,415.70 C498.23,418.67 498.47,422.30 498.60,425.60 C498.73,428.90 498.73,432.87 499.10,435.50 C499.47,438.13 500.23,439.75 500.80,441.40 C501.37,443.05 502.07,444.07 502.50,445.40 C502.93,446.73 503.52,447.92 503.40,449.40 C503.28,450.88 502.52,452.82 501.80,454.30 C501.08,455.78 499.90,457.15 499.10,458.30 C498.30,459.45 497.35,460.72 497.00,461.20 L496.60,461.70 L496.20,461.20 C495.85,460.72 494.90,459.45 494.10,458.30 C493.30,457.15 492.12,455.78 491.40,454.30 C490.68,452.82 489.92,450.88 489.80,449.40 C489.68,447.92 490.27,446.73 490.70,445.40 C491.13,444.07 491.83,443.05 492.40,441.40 C492.97,439.75 493.73,438.13 494.10,435.50 C494.47,432.87 494.47,428.90 494.60,425.60 C494.73,422.30 494.97,418.67 494.90,415.70 C494.83,412.73 494.20,409.95 494.20,407.80 C494.20,405.65 494.58,404.28 494.90,402.80 C495.22,401.32 495.90,399.55 496.10,398.90 Z" fill="#9a2c9c" stroke="#210922" stroke-width="0.9" stroke-linejoin="round"/>
<line x1="490.91" y1="444.9" x2="502.29" y2="444.9" stroke="#350f36" stroke-width="0.5" opacity="0.45"/>
<line x1="490.91" y1="444.9" x2="502.29" y2="444.9" stroke="#350f36" stroke-width="0.85" opacity="0.8"/>
<line x1="490.81" y1="452.5" x2="502.39" y2="452.5" stroke="#350f36" stroke-width="0.5" opacity="0.45"/>
<text x="409.40" y="543.10" font-size="9.6" text-anchor="middle" fill="#222" font-weight="normal" textLength="176.9" lengthAdjust="spacingAndGlyphs">REACTOME Dissolution of fibrin clot</text>
<text transform="translate(284.0,620.17) rotate(-90)" font-size="8.9" text-anchor="middle" fill="#2b2b2b" textLength="94" lengthAdjust="spacingAndGlyphs">Average gene expression</text>
<line x1="307.0" y1="608.2" x2="511.8" y2="608.2" stroke="#777" stroke-width="0.8"/>
<line x1="303" y1="553.32" x2="307.0" y2="553.32" stroke="#222" stroke-width="1"/>
<text x="299.60" y="556.32" font-size="8.3" text-anchor="end" fill="#333" font-weight="normal" >4</text>
<line x1="303" y1="580.76" x2="307.0" y2="580.76" stroke="#222" stroke-width="1"/>
<text x="299.60" y="583.76" font-size="8.3" text-anchor="end" fill="#333" font-weight="normal" >2</text>
<line x1="303" y1="608.20" x2="307.0" y2="608.20" stroke="#222" stroke-width="1"/>
<text x="299.60" y="611.20" font-size="8.3" text-anchor="end" fill="#333" font-weight="normal" >0</text>
<line x1="303" y1="635.64" x2="307.0" y2="635.64" stroke="#222" stroke-width="1"/>
<text x="299.60" y="638.64" font-size="8.3" text-anchor="end" fill="#333" font-weight="normal" >–2</text>
<line x1="303" y1="663.08" x2="307.0" y2="663.08" stroke="#222" stroke-width="1"/>
<text x="299.60" y="666.08" font-size="8.3" text-anchor="end" fill="#333" font-weight="normal" >–4</text>
<line x1="303" y1="690.52" x2="307.0" y2="690.52" stroke="#222" stroke-width="1"/>
<text x="299.60" y="693.52" font-size="8.3" text-anchor="end" fill="#333" font-weight="normal" >–6</text>
<line x1="307.0" y1="549.82" x2="307.0" y2="691.22" stroke="#222" stroke-width="1.4"/>
<line x1="306.3" y1="690.52" x2="512" y2="690.52" stroke="#222" stroke-width="1.4"/>
<line x1="321.40" y1="690.52" x2="321.40" y2="694.52" stroke="#222" stroke-width="1"/>
<line x1="343.30" y1="690.52" x2="343.30" y2="694.52" stroke="#222" stroke-width="1"/>
<line x1="365.20" y1="690.52" x2="365.20" y2="694.52" stroke="#222" stroke-width="1"/>
<line x1="387.10" y1="690.52" x2="387.10" y2="694.52" stroke="#222" stroke-width="1"/>
<line x1="409.00" y1="690.52" x2="409.00" y2="694.52" stroke="#222" stroke-width="1"/>
<line x1="430.90" y1="690.52" x2="430.90" y2="694.52" stroke="#222" stroke-width="1"/>
<line x1="452.80" y1="690.52" x2="452.80" y2="694.52" stroke="#222" stroke-width="1"/>
<line x1="474.70" y1="690.52" x2="474.70" y2="694.52" stroke="#222" stroke-width="1"/>
<line x1="496.60" y1="690.52" x2="496.60" y2="694.52" stroke="#222" stroke-width="1"/>
<line x1="314.00" y1="608.2" x2="328.80" y2="608.2" stroke="#1a1a1a" stroke-width="1.5"/>
<line x1="467.30" y1="608.2" x2="482.10" y2="608.2" stroke="#1a1a1a" stroke-width="1.5"/>
<line x1="343.30" y1="589.6" x2="343.30" y2="629.9" stroke="#333" stroke-width="1.1"/>
<path d="M343.30,591.50 L343.60,592.00 C343.80,592.37 344.80,593.30 344.80,594.20 C344.80,595.10 343.77,596.32 343.60,597.40 C343.43,598.48 343.53,599.88 343.80,600.70 C344.07,601.52 344.70,601.77 345.20,602.30 C345.70,602.83 346.22,603.18 346.80,603.90 C347.38,604.62 348.12,605.88 348.70,606.60 C349.28,607.32 350.48,607.65 350.30,608.20 C350.12,608.75 348.50,609.17 347.60,609.90 C346.70,610.63 345.57,611.80 344.90,612.60 C344.23,613.40 343.82,612.82 343.60,614.70 C343.38,616.58 343.40,622.05 343.60,623.90 C343.80,625.75 344.80,625.17 344.80,625.80 C344.80,626.43 343.80,627.38 343.60,627.70 L343.30,628.20 L343.00,627.70 C342.80,627.38 341.80,626.43 341.80,625.80 C341.80,625.17 342.80,625.75 343.00,623.90 C343.20,622.05 343.22,616.58 343.00,614.70 C342.78,612.82 342.37,613.40 341.70,612.60 C341.03,611.80 339.90,610.63 339.00,609.90 C338.10,609.17 336.48,608.75 336.30,608.20 C336.12,607.65 337.32,607.32 337.90,606.60 C338.48,605.88 339.22,604.62 339.80,603.90 C340.38,603.18 340.90,602.83 341.40,602.30 C341.90,601.77 342.53,601.52 342.80,600.70 C343.07,599.88 343.17,598.48 343.00,597.40 C342.83,596.32 341.80,595.10 341.80,594.20 C341.80,593.30 342.80,592.37 343.00,592.00 Z" fill="#ec3b30" stroke="#330c0a" stroke-width="0.9" stroke-linejoin="round"/>
<line x1="365.20" y1="568.2" x2="365.20" y2="641.5" stroke="#333" stroke-width="1.1"/>
<path d="M365.20,574.60 L365.50,575.10 C365.74,576.33 366.93,579.73 366.95,582.50 C366.97,585.27 365.51,589.55 365.60,591.70 C365.69,593.85 366.95,593.87 367.50,595.40 C368.05,596.93 368.53,598.75 368.90,600.90 C369.27,603.05 369.40,605.92 369.70,608.30 C370.00,610.68 370.32,613.35 370.70,615.20 C371.08,617.05 371.77,618.25 372.00,619.40 C372.23,620.55 372.47,620.88 372.10,622.10 C371.73,623.32 370.65,625.17 369.80,626.70 C368.95,628.23 367.70,630.07 367.00,631.30 C366.30,632.53 365.83,633.63 365.60,634.10 L365.20,634.60 L364.80,634.10 C364.57,633.63 364.10,632.53 363.40,631.30 C362.70,630.07 361.45,628.23 360.60,626.70 C359.75,625.17 358.67,623.32 358.30,622.10 C357.93,620.88 358.17,620.55 358.40,619.40 C358.63,618.25 359.32,617.05 359.70,615.20 C360.08,613.35 360.40,610.68 360.70,608.30 C361.00,605.92 361.13,603.05 361.50,600.90 C361.87,598.75 362.35,596.93 362.90,595.40 C363.45,593.87 364.71,593.85 364.80,591.70 C364.89,589.55 363.43,585.27 363.45,582.50 C363.47,579.73 364.66,576.33 364.90,575.10 Z" fill="#ef3d17" stroke="#340d05" stroke-width="0.9" stroke-linejoin="round"/>
<line x1="361.10" y1="604.6" x2="369.30" y2="604.6" stroke="#531508" stroke-width="0.5" opacity="0.45"/>
<line x1="359.70" y1="615.2" x2="370.70" y2="615.2" stroke="#531508" stroke-width="0.85" opacity="0.8"/>
<line x1="358.75" y1="623" x2="371.65" y2="623" stroke="#531508" stroke-width="0.5" opacity="0.45"/>
<line x1="387.10" y1="558.6" x2="387.10" y2="668.2" stroke="#333" stroke-width="1.1"/>
<path d="M387.10,566.80 L387.60,567.30 C387.97,568.40 389.22,571.68 389.80,573.90 C390.38,576.12 390.67,578.17 391.10,580.60 C391.53,583.03 392.03,585.40 392.40,588.50 C392.77,591.60 393.02,596.32 393.30,599.20 C393.58,602.08 394.25,603.60 394.10,605.80 C393.95,608.00 393.02,609.97 392.40,612.40 C391.78,614.83 390.91,617.73 390.40,620.40 C389.89,623.07 389.62,625.75 389.35,628.40 C389.08,631.05 388.84,633.65 388.80,636.30 C388.76,638.95 389.17,641.63 389.10,644.30 C389.03,646.97 388.67,650.20 388.40,652.30 C388.13,654.40 387.65,656.13 387.50,656.90 L387.10,657.40 L386.70,656.90 C386.55,656.13 386.07,654.40 385.80,652.30 C385.53,650.20 385.17,646.97 385.10,644.30 C385.03,641.63 385.44,638.95 385.40,636.30 C385.36,633.65 385.12,631.05 384.85,628.40 C384.58,625.75 384.31,623.07 383.80,620.40 C383.29,617.73 382.42,614.83 381.80,612.40 C381.18,609.97 380.25,608.00 380.10,605.80 C379.95,603.60 380.62,602.08 380.90,599.20 C381.18,596.32 381.43,591.60 381.80,588.50 C382.17,585.40 382.67,583.03 383.10,580.60 C383.53,578.17 383.82,576.12 384.40,573.90 C384.98,571.68 386.23,568.40 386.60,567.30 Z" fill="#c8090b" stroke="#2c0102" stroke-width="0.9" stroke-linejoin="round"/>
<line x1="381.68" y1="589.9" x2="392.52" y2="589.9" stroke="#460303" stroke-width="0.5" opacity="0.45"/>
<line x1="380.15" y1="606" x2="394.05" y2="606" stroke="#460303" stroke-width="0.85" opacity="0.8"/>
<line x1="381.80" y1="612.4" x2="392.40" y2="612.4" stroke="#460303" stroke-width="0.5" opacity="0.45"/>
<line x1="409.00" y1="585.3" x2="409.00" y2="634.2" stroke="#333" stroke-width="1.1"/>
<path d="M409.00,590.60 L409.60,591.10 C409.80,591.75 410.38,593.47 410.80,595.00 C411.22,596.53 411.53,598.77 412.10,600.30 C412.67,601.83 413.52,602.90 414.20,604.20 C414.88,605.50 416.33,606.90 416.20,608.10 C416.07,609.30 413.87,610.32 413.40,611.40 C412.93,612.48 413.33,613.63 413.40,614.60 C413.47,615.57 414.05,616.22 413.80,617.20 C413.55,618.18 412.37,619.42 411.90,620.50 C411.43,621.58 411.28,622.62 411.00,623.70 C410.72,624.78 410.47,626.12 410.20,627.00 C409.93,627.88 409.53,628.67 409.40,629.00 L409.00,629.50 L408.60,629.00 C408.47,628.67 408.07,627.88 407.80,627.00 C407.53,626.12 407.28,624.78 407.00,623.70 C406.72,622.62 406.57,621.58 406.10,620.50 C405.63,619.42 404.45,618.18 404.20,617.20 C403.95,616.22 404.53,615.57 404.60,614.60 C404.67,613.63 405.07,612.48 404.60,611.40 C404.13,610.32 401.93,609.30 401.80,608.10 C401.67,606.90 403.12,605.50 403.80,604.20 C404.48,602.90 405.33,601.83 405.90,600.30 C406.47,598.77 406.78,596.53 407.20,595.00 C407.62,593.47 408.20,591.75 408.40,591.10 Z" fill="#3c8fd7" stroke="#0d1f2f" stroke-width="0.9" stroke-linejoin="round"/>
<line x1="403.54" y1="604.7" x2="414.46" y2="604.7" stroke="#15324b" stroke-width="0.5" opacity="0.45"/>
<line x1="402.31" y1="608.7" x2="415.69" y2="608.7" stroke="#15324b" stroke-width="0.85" opacity="0.8"/>
<line x1="404.26" y1="616.8" x2="413.74" y2="616.8" stroke="#15324b" stroke-width="0.5" opacity="0.45"/>
<line x1="430.90" y1="564.6" x2="430.90" y2="647.0" stroke="#333" stroke-width="1.1"/>
<path d="M430.90,573.70 L431.50,574.20 C431.70,575.20 432.50,577.50 432.70,580.20 C432.90,582.90 432.85,587.35 432.70,590.40 C432.55,593.45 431.55,596.32 431.80,598.50 C432.05,600.68 433.38,601.82 434.20,603.50 C435.02,605.18 436.12,607.17 436.70,608.60 C437.28,610.03 437.87,610.75 437.70,612.10 C437.53,613.45 436.37,615.10 435.70,616.70 C435.03,618.30 434.03,619.68 433.70,621.70 C433.37,623.72 433.87,626.60 433.70,628.80 C433.53,631.00 433.10,633.03 432.70,634.90 C432.30,636.77 431.53,639.15 431.30,640.00 L430.90,640.50 L430.50,640.00 C430.27,639.15 429.50,636.77 429.10,634.90 C428.70,633.03 428.27,631.00 428.10,628.80 C427.93,626.60 428.43,623.72 428.10,621.70 C427.77,619.68 426.77,618.30 426.10,616.70 C425.43,615.10 424.27,613.45 424.10,612.10 C423.93,610.75 424.52,610.03 425.10,608.60 C425.68,607.17 426.78,605.18 427.60,603.50 C428.42,601.82 429.75,600.68 430.00,598.50 C430.25,596.32 429.25,593.45 429.10,590.40 C428.95,587.35 428.90,582.90 429.10,580.20 C429.30,577.50 430.10,575.20 430.30,574.20 Z" fill="#14a0c4" stroke="#04232b" stroke-width="0.9" stroke-linejoin="round"/>
<line x1="425.39" y1="608" x2="436.41" y2="608" stroke="#073844" stroke-width="0.5" opacity="0.45"/>
<line x1="424.53" y1="613.1" x2="437.27" y2="613.1" stroke="#073844" stroke-width="0.85" opacity="0.8"/>
<line x1="426.14" y1="616.8" x2="435.66" y2="616.8" stroke="#073844" stroke-width="0.5" opacity="0.45"/>
<line x1="452.80" y1="584.5" x2="452.80" y2="643.1" stroke="#333" stroke-width="1.1"/>
<path d="M452.80,590.60 L453.30,591.10 C453.77,591.72 455.20,593.43 456.10,594.80 C457.00,596.17 458.10,597.93 458.70,599.30 C459.30,600.67 459.75,601.77 459.70,603.00 C459.65,604.23 458.87,605.33 458.40,606.70 C457.93,608.07 457.07,609.83 456.90,611.20 C456.73,612.57 457.12,613.42 457.40,614.90 C457.67,616.38 458.30,618.50 458.55,620.10 C458.80,621.70 459.31,623.02 458.90,624.50 C458.49,625.98 456.87,627.50 456.10,629.00 C455.33,630.50 454.78,632.38 454.30,633.50 C453.82,634.62 453.38,635.33 453.20,635.70 L452.80,636.20 L452.40,635.70 C452.22,635.33 451.78,634.62 451.30,633.50 C450.82,632.38 450.27,630.50 449.50,629.00 C448.73,627.50 447.11,625.98 446.70,624.50 C446.29,623.02 446.80,621.70 447.05,620.10 C447.30,618.50 447.92,616.38 448.20,614.90 C448.47,613.42 448.87,612.57 448.70,611.20 C448.53,609.83 447.67,608.07 447.20,606.70 C446.73,605.33 445.95,604.23 445.90,603.00 C445.85,601.77 446.30,600.67 446.90,599.30 C447.50,597.93 448.60,596.17 449.50,594.80 C450.40,593.43 451.83,591.72 452.30,591.10 Z" fill="#0a8ca8" stroke="#021e24" stroke-width="0.9" stroke-linejoin="round"/>
<line x1="446.18" y1="603.8" x2="459.42" y2="603.8" stroke="#03313a" stroke-width="0.5" opacity="0.45"/>
<line x1="448.31" y1="614.1" x2="457.29" y2="614.1" stroke="#03313a" stroke-width="0.85" opacity="0.8"/>
<line x1="446.70" y1="624.5" x2="458.90" y2="624.5" stroke="#03313a" stroke-width="0.5" opacity="0.45"/>
<line x1="496.60" y1="562.5" x2="496.60" y2="654.7" stroke="#333" stroke-width="1.1"/>
<path d="M496.60,574.40 L497.10,574.90 C497.72,575.83 499.80,578.82 500.80,580.50 C501.80,582.18 502.60,583.68 503.10,585.00 C503.60,586.32 503.90,587.08 503.80,588.40 C503.70,589.72 503.12,591.40 502.50,592.90 C501.88,594.40 500.68,595.72 500.10,597.40 C499.52,599.08 499.25,601.32 499.00,603.00 C498.75,604.68 498.58,605.63 498.60,607.50 C498.62,609.37 498.92,611.58 499.10,614.20 C499.28,616.82 499.70,620.38 499.70,623.20 C499.70,626.02 499.33,628.85 499.10,631.10 C498.87,633.35 498.65,635.02 498.30,636.70 C497.95,638.38 497.22,640.45 497.00,641.20 L496.60,641.70 L496.20,641.20 C495.98,640.45 495.25,638.38 494.90,636.70 C494.55,635.02 494.33,633.35 494.10,631.10 C493.87,628.85 493.50,626.02 493.50,623.20 C493.50,620.38 493.92,616.82 494.10,614.20 C494.28,611.58 494.58,609.37 494.60,607.50 C494.62,605.63 494.45,604.68 494.20,603.00 C493.95,601.32 493.68,599.08 493.10,597.40 C492.52,595.72 491.32,594.40 490.70,592.90 C490.08,591.40 489.50,589.72 489.40,588.40 C489.30,587.08 489.60,586.32 490.10,585.00 C490.60,583.68 491.40,582.18 492.40,580.50 C493.40,578.82 495.48,575.83 496.10,574.90 Z" fill="#9a2c9c" stroke="#210922" stroke-width="0.9" stroke-linejoin="round"/>
<line x1="489.52" y1="587.8" x2="503.68" y2="587.8" stroke="#350f36" stroke-width="0.5" opacity="0.45"/>
<line x1="490.35" y1="591.7" x2="502.85" y2="591.7" stroke="#350f36" stroke-width="0.85" opacity="0.8"/>
<line x1="493.71" y1="620" x2="499.49" y2="620" stroke="#350f36" stroke-width="0.5" opacity="0.45"/>
<path d="M321.4,238.5 L321.4,187.4 L387.1,187.4 L387.1,190.5" fill="none" stroke="#555" stroke-width="0.9"/>
<text x="354.50" y="187.60" font-size="8.2" text-anchor="middle" fill="#222" font-weight="normal" >*</text>
<path d="M321.4,418.8 L321.4,370.2 L387.5,370.2 L387.5,373.5" fill="none" stroke="#555" stroke-width="0.9"/>
<text x="354.50" y="370.40" font-size="8.2" text-anchor="middle" fill="#222" font-weight="normal" >***</text>
<path d="M321.4,379.5 L321.4,379.5 L366.2,379.5 L366.2,383.0" fill="none" stroke="#555" stroke-width="0.9"/>
<text x="344.20" y="379.70" font-size="8.2" text-anchor="middle" fill="#222" font-weight="normal" >**</text>
<path d="M474.6,416.0 L474.6,382.7 L496.6,382.7 L496.6,385.0" fill="none" stroke="#555" stroke-width="0.9"/>
<text x="485.50" y="382.90" font-size="8.2" text-anchor="middle" fill="#222" font-weight="normal" >*</text>
<text transform="translate(325.40,703.12) rotate(-45)" font-size="8.5" text-anchor="end" fill="#2b2b2b" textLength="19.29" lengthAdjust="spacingAndGlyphs">Mock</text>
<text transform="translate(347.30,703.12) rotate(-45)" font-size="8.5" text-anchor="end" fill="#2b2b2b" textLength="45.78" lengthAdjust="spacingAndGlyphs">Josiah 2 DPI</text>
<text transform="translate(369.20,703.12) rotate(-45)" font-size="8.5" text-anchor="end" fill="#2b2b2b" textLength="45.78" lengthAdjust="spacingAndGlyphs">Josiah 5 DPI</text>
<text transform="translate(391.10,703.12) rotate(-45)" font-size="8.5" text-anchor="end" fill="#2b2b2b" textLength="49.67" lengthAdjust="spacingAndGlyphs">Josiah 11 DPI</text>
<text transform="translate(413.00,703.12) rotate(-45)" font-size="8.5" text-anchor="end" fill="#2b2b2b" textLength="32.61" lengthAdjust="spacingAndGlyphs">AV 2 DPI</text>
<text transform="translate(434.90,703.12) rotate(-45)" font-size="8.5" text-anchor="end" fill="#2b2b2b" textLength="32.61" lengthAdjust="spacingAndGlyphs">AV 5 DPI</text>
<text transform="translate(456.80,703.12) rotate(-45)" font-size="8.5" text-anchor="end" fill="#2b2b2b" textLength="36.50" lengthAdjust="spacingAndGlyphs">AV 11 DPI</text>
<text transform="translate(478.70,703.12) rotate(-45)" font-size="8.5" text-anchor="end" fill="#2b2b2b" textLength="19.29" lengthAdjust="spacingAndGlyphs">Mock</text>
<text transform="translate(500.60,703.12) rotate(-45)" font-size="8.5" text-anchor="end" fill="#2b2b2b" textLength="23.33" lengthAdjust="spacingAndGlyphs">MACV</text>
</svg>
</div></body></html>
